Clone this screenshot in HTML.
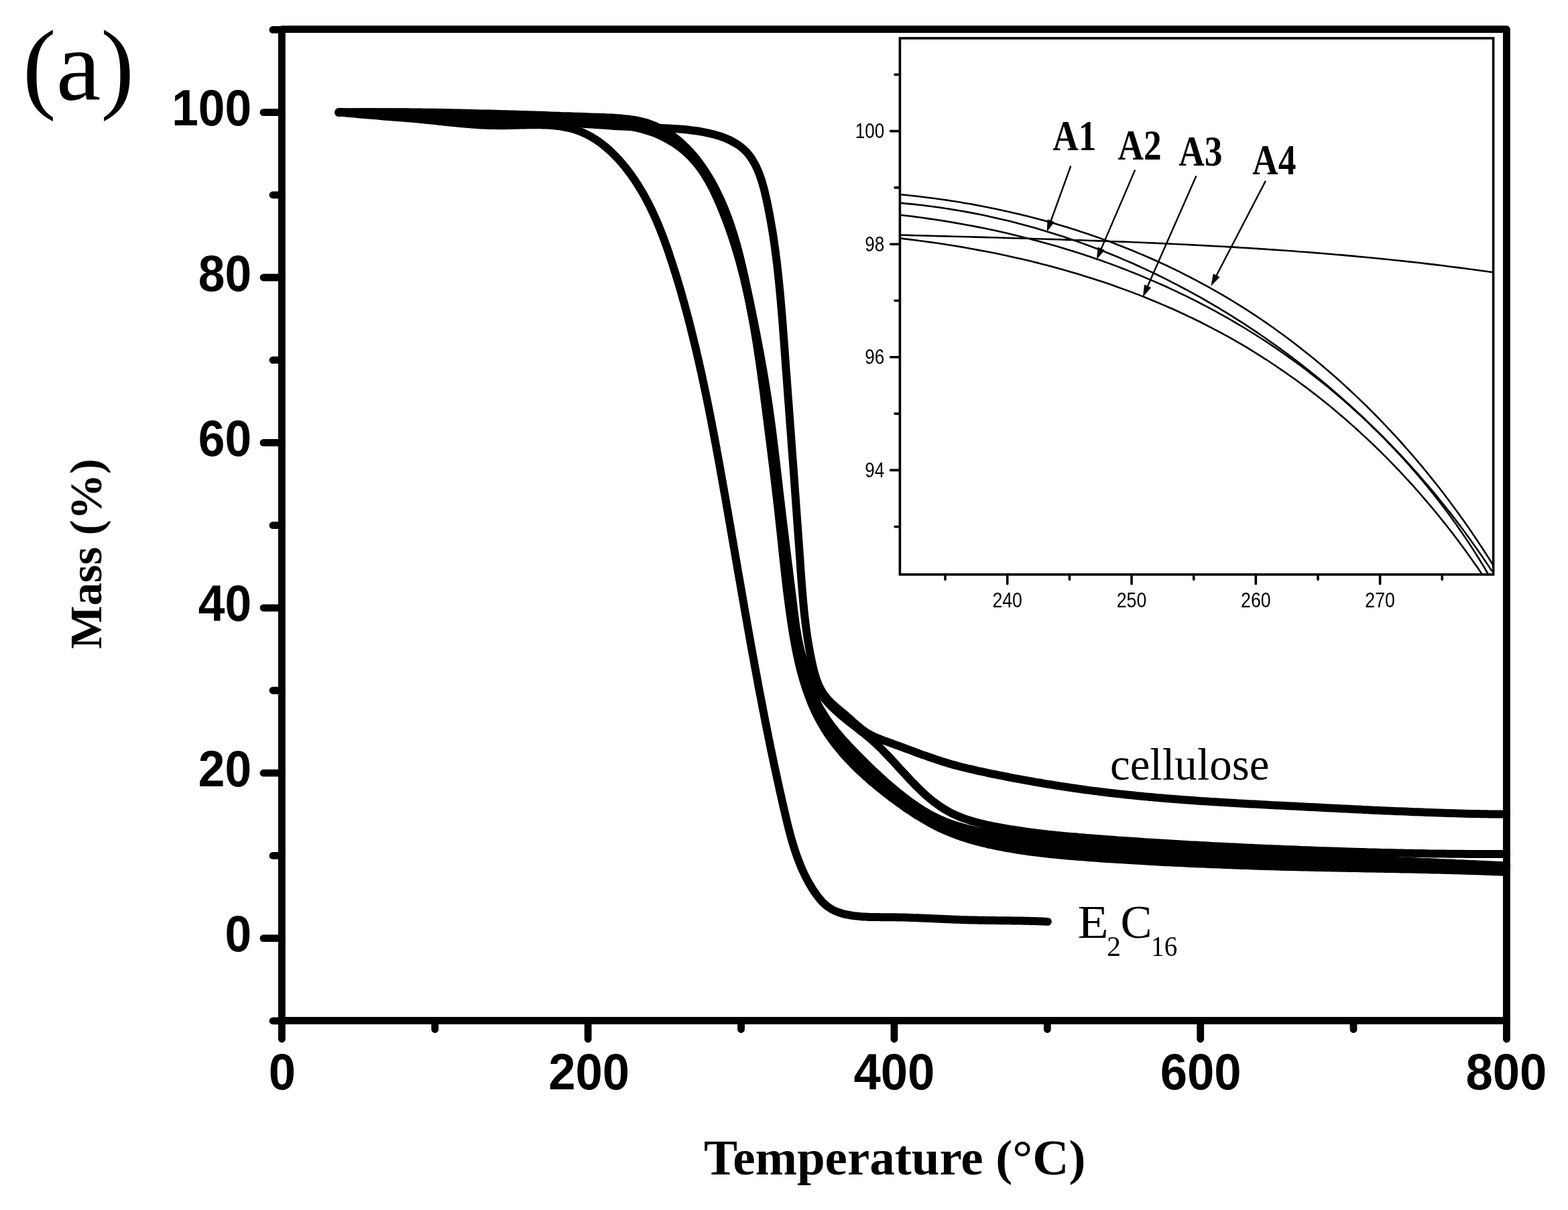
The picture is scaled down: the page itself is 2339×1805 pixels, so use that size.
<!DOCTYPE html>
<html><head><meta charset="utf-8"><title>TGA curves</title>
<style>html,body{margin:0;padding:0;background:#fff;overflow:hidden;}svg{display:block;}</style>
</head><body>
<svg width="2339" height="1805" viewBox="0 0 2339 1805"><path d="M420.4,1522.5 L420.4,43.7 L2247.4,43.7 L2247.4,1522.5 Z" fill="none" stroke="#000" stroke-width="10.8" stroke-linejoin="round"/>
<line x1="407.0" y1="1522.8" x2="420.4" y2="1522.8" stroke="#000" stroke-width="10.8" stroke-linecap="round"/>
<line x1="393.0" y1="1399.6" x2="420.4" y2="1399.6" stroke="#000" stroke-width="10.8" stroke-linecap="round"/>
<line x1="407.0" y1="1276.4" x2="420.4" y2="1276.4" stroke="#000" stroke-width="10.8" stroke-linecap="round"/>
<line x1="393.0" y1="1153.2" x2="420.4" y2="1153.2" stroke="#000" stroke-width="10.8" stroke-linecap="round"/>
<line x1="407.0" y1="1030.0" x2="420.4" y2="1030.0" stroke="#000" stroke-width="10.8" stroke-linecap="round"/>
<line x1="393.0" y1="906.8" x2="420.4" y2="906.8" stroke="#000" stroke-width="10.8" stroke-linecap="round"/>
<line x1="407.0" y1="783.6" x2="420.4" y2="783.6" stroke="#000" stroke-width="10.8" stroke-linecap="round"/>
<line x1="393.0" y1="660.4" x2="420.4" y2="660.4" stroke="#000" stroke-width="10.8" stroke-linecap="round"/>
<line x1="407.0" y1="537.2" x2="420.4" y2="537.2" stroke="#000" stroke-width="10.8" stroke-linecap="round"/>
<line x1="393.0" y1="414.0" x2="420.4" y2="414.0" stroke="#000" stroke-width="10.8" stroke-linecap="round"/>
<line x1="407.0" y1="290.8" x2="420.4" y2="290.8" stroke="#000" stroke-width="10.8" stroke-linecap="round"/>
<line x1="393.0" y1="167.6" x2="420.4" y2="167.6" stroke="#000" stroke-width="10.8" stroke-linecap="round"/>
<line x1="407.0" y1="44.4" x2="420.4" y2="44.4" stroke="#000" stroke-width="10.8" stroke-linecap="round"/>
<line x1="420.4" y1="1522.5" x2="420.4" y2="1550.0" stroke="#000" stroke-width="10.8" stroke-linecap="round"/>
<line x1="648.8" y1="1522.5" x2="648.8" y2="1535.5" stroke="#000" stroke-width="10.8" stroke-linecap="round"/>
<line x1="877.1" y1="1522.5" x2="877.1" y2="1550.0" stroke="#000" stroke-width="10.8" stroke-linecap="round"/>
<line x1="1105.5" y1="1522.5" x2="1105.5" y2="1535.5" stroke="#000" stroke-width="10.8" stroke-linecap="round"/>
<line x1="1333.9" y1="1522.5" x2="1333.9" y2="1550.0" stroke="#000" stroke-width="10.8" stroke-linecap="round"/>
<line x1="1562.3" y1="1522.5" x2="1562.3" y2="1535.5" stroke="#000" stroke-width="10.8" stroke-linecap="round"/>
<line x1="1790.7" y1="1522.5" x2="1790.7" y2="1550.0" stroke="#000" stroke-width="10.8" stroke-linecap="round"/>
<line x1="2019.0" y1="1522.5" x2="2019.0" y2="1535.5" stroke="#000" stroke-width="10.8" stroke-linecap="round"/>
<line x1="2247.4" y1="1522.5" x2="2247.4" y2="1550.0" stroke="#000" stroke-width="10.8" stroke-linecap="round"/>
<text transform="translate(375.2,1419.2) scale(0.945,1)" text-anchor="end" font-family="Liberation Sans, Arial, sans-serif" font-weight="bold" font-size="75.5">0</text>
<text transform="translate(375.2,1172.8) scale(0.945,1)" text-anchor="end" font-family="Liberation Sans, Arial, sans-serif" font-weight="bold" font-size="75.5">20</text>
<text transform="translate(375.2,926.4) scale(0.945,1)" text-anchor="end" font-family="Liberation Sans, Arial, sans-serif" font-weight="bold" font-size="75.5">40</text>
<text transform="translate(375.2,680.0) scale(0.945,1)" text-anchor="end" font-family="Liberation Sans, Arial, sans-serif" font-weight="bold" font-size="75.5">60</text>
<text transform="translate(375.2,433.6) scale(0.945,1)" text-anchor="end" font-family="Liberation Sans, Arial, sans-serif" font-weight="bold" font-size="75.5">80</text>
<text transform="translate(375.2,187.2) scale(0.945,1)" text-anchor="end" font-family="Liberation Sans, Arial, sans-serif" font-weight="bold" font-size="75.5">100</text>
<text transform="translate(420.9,1625.0) scale(0.96,1)" text-anchor="middle" font-family="Liberation Sans, Arial, sans-serif" font-weight="bold" font-size="75.5">0</text>
<text transform="translate(878.6,1625.0) scale(0.96,1)" text-anchor="middle" font-family="Liberation Sans, Arial, sans-serif" font-weight="bold" font-size="75.5">200</text>
<text transform="translate(1333.9,1625.0) scale(0.96,1)" text-anchor="middle" font-family="Liberation Sans, Arial, sans-serif" font-weight="bold" font-size="75.5">400</text>
<text transform="translate(1791.2,1625.0) scale(0.96,1)" text-anchor="middle" font-family="Liberation Sans, Arial, sans-serif" font-weight="bold" font-size="75.5">600</text>
<text transform="translate(2246.9,1625.0) scale(0.96,1)" text-anchor="middle" font-family="Liberation Sans, Arial, sans-serif" font-weight="bold" font-size="75.5">800</text>
<text x="1050" y="1752" font-family="Liberation Serif, Times New Roman, serif" font-weight="bold" font-size="75">Temperature (°C)</text>
<text transform="translate(150.7,968.3) rotate(-90)" font-family="Liberation Serif, Times New Roman, serif" font-weight="bold" font-size="68.7">Mass (%)</text>
<text x="33.7" y="148.7" font-family="Liberation Serif, Times New Roman, serif" font-size="150">(a)</text>
<text transform="translate(1656,1162.6) scale(0.975,1)" font-family="Liberation Serif, Times New Roman, serif" font-size="68.5">cellulose</text>
<text transform="translate(1607.5,1398.9) scale(1.07,1)" font-family="Liberation Serif, Times New Roman, serif" font-size="70.5">E</text>
<text x="1651.0" y="1425.8" font-family="Liberation Serif, Times New Roman, serif" font-size="42">2</text>
<text x="1671.5" y="1398.9" font-family="Liberation Serif, Times New Roman, serif" font-size="70.5">C</text>
<text transform="translate(1717.1,1425.8) scale(0.93,1)" font-family="Liberation Serif, Times New Roman, serif" font-size="42">16</text>
<path d="M505.8,167.3C506.9,167.4 510.0,167.8 512.1,168.0C514.2,168.2 516.3,168.4 518.4,168.7C520.5,168.9 522.6,169.1 524.7,169.3C526.9,169.5 529.0,169.7 531.1,169.9C533.2,170.1 535.4,170.3 537.5,170.5C539.7,170.7 541.8,170.9 544.0,171.1C546.1,171.2 548.3,171.4 550.4,171.6C552.6,171.8 554.7,171.9 556.9,172.1C559.1,172.3 561.2,172.5 563.4,172.6C565.5,172.8 567.7,173.0 569.9,173.2C572.1,173.3 574.2,173.5 576.4,173.7C578.6,173.8 580.7,174.0 582.9,174.2C585.1,174.3 587.3,174.5 589.4,174.7C591.6,174.9 593.8,175.0 595.9,175.2C598.1,175.4 600.3,175.6 602.5,175.7C604.6,175.9 606.8,176.1 609.0,176.3C611.1,176.5 613.3,176.6 615.4,176.8C617.6,177.0 619.8,177.2 621.9,177.4C624.1,177.6 626.2,177.8 628.4,178.0C630.5,178.2 632.7,178.5 634.8,178.7C636.9,178.9 639.1,179.1 641.2,179.3C643.3,179.5 645.5,179.8 647.6,180.0C649.7,180.2 651.9,180.5 654.0,180.7C656.1,180.9 658.2,181.1 660.4,181.4C662.5,181.6 664.6,181.8 666.7,182.0C668.8,182.3 671.0,182.5 673.1,182.7C675.2,182.9 677.3,183.1 679.4,183.4C681.6,183.6 683.7,183.8 685.8,184.0C687.9,184.2 690.0,184.4 692.2,184.6C694.3,184.7 696.4,184.9 698.6,185.1C700.7,185.3 702.8,185.4 704.9,185.6C707.1,185.8 709.2,185.9 711.4,186.0C713.5,186.2 715.6,186.3 717.8,186.4C719.9,186.5 722.1,186.6 724.2,186.7C726.4,186.8 728.6,186.9 730.7,187.0C732.9,187.0 735.1,187.1 737.2,187.1C739.4,187.2 741.6,187.2 743.8,187.2C746.0,187.2 748.2,187.2 750.4,187.2C752.6,187.2 754.8,187.1 757.0,187.1C759.2,187.0 761.4,187.0 763.6,186.9C765.8,186.9 768.0,186.8 770.2,186.8C772.5,186.7 774.7,186.6 776.9,186.6C779.1,186.5 781.3,186.5 783.5,186.4C785.7,186.4 788.0,186.3 790.2,186.3C792.4,186.3 794.6,186.2 796.8,186.2C799.0,186.2 801.2,186.2 803.4,186.2C805.5,186.3 807.7,186.3 809.9,186.4C812.1,186.4 814.2,186.5 816.4,186.6C818.5,186.8 820.7,186.9 822.8,187.1C825.0,187.2 827.1,187.4 829.2,187.7C831.3,187.9 833.4,188.1 835.5,188.4C837.6,188.7 839.7,189.1 841.7,189.5C843.8,189.8 845.9,190.3 847.9,190.7C849.9,191.2 851.9,191.7 853.9,192.3C855.9,192.8 857.9,193.4 859.9,194.1C861.8,194.7 863.8,195.4 865.7,196.2C867.6,197.0 869.5,197.8 871.4,198.6C873.3,199.5 875.2,200.4 877.0,201.4C878.8,202.3 880.7,203.3 882.5,204.4C884.3,205.5 886.1,206.5 887.8,207.7C889.6,208.8 891.3,210.0 893.1,211.2C894.8,212.4 896.5,213.7 898.2,215.0C899.9,216.3 901.6,217.6 903.2,219.0C904.8,220.4 906.5,221.8 908.1,223.2C909.7,224.7 911.3,226.1 912.8,227.6C914.4,229.1 916.0,230.7 917.5,232.2C919.0,233.8 920.5,235.4 922.0,237.0C923.5,238.6 924.9,240.2 926.4,241.9C927.8,243.5 929.2,245.2 930.6,246.9C932.1,248.6 933.4,250.3 934.8,252.1C936.2,253.8 937.5,255.6 938.8,257.4C940.1,259.1 941.4,260.9 942.7,262.7C944.0,264.5 945.2,266.3 946.5,268.2C947.7,270.0 948.9,271.8 950.1,273.7C951.3,275.5 952.5,277.4 953.6,279.3C954.8,281.1 955.9,283.0 957.0,284.9C958.1,286.7 959.2,288.6 960.3,290.5C961.3,292.4 962.4,294.3 963.4,296.2C964.4,298.1 965.4,300.0 966.4,301.9C967.4,303.8 968.4,305.8 969.4,307.7C970.3,309.6 971.3,311.5 972.2,313.5C973.1,315.4 974.0,317.4 974.9,319.3C975.8,321.3 976.7,323.2 977.6,325.2C978.5,327.1 979.3,329.1 980.2,331.1C981.0,333.0 981.8,335.0 982.6,337.0C983.5,339.0 984.3,341.0 985.0,342.9C985.8,344.9 986.6,346.9 987.4,348.9C988.2,350.9 988.9,352.9 989.7,354.9C990.4,356.9 991.2,358.9 991.9,360.9C992.6,363.0 993.3,365.0 994.1,367.0C994.8,369.0 995.5,371.0 996.2,373.1C996.9,375.1 997.6,377.1 998.3,379.1C998.9,381.2 999.6,383.2 1000.3,385.3C1001.0,387.3 1001.6,389.3 1002.3,391.4C1003.0,393.4 1003.6,395.5 1004.3,397.5C1004.9,399.6 1005.6,401.6 1006.2,403.7C1006.9,405.7 1007.5,407.8 1008.2,409.8C1008.8,411.9 1009.4,413.9 1010.1,416.0C1010.7,418.1 1011.3,420.1 1011.9,422.2C1012.5,424.3 1013.1,426.3 1013.8,428.4C1014.4,430.5 1015.0,432.5 1015.6,434.6C1016.2,436.7 1016.8,438.8 1017.4,440.8C1017.9,442.9 1018.5,445.0 1019.1,447.1C1019.7,449.2 1020.3,451.2 1020.9,453.3C1021.4,455.4 1022.0,457.5 1022.6,459.6C1023.1,461.7 1023.7,463.7 1024.3,465.8C1024.8,467.9 1025.4,470.0 1025.9,472.1C1026.5,474.2 1027.0,476.3 1027.6,478.4C1028.1,480.5 1028.6,482.6 1029.2,484.7C1029.7,486.8 1030.2,488.9 1030.8,491.0C1031.3,493.1 1031.8,495.2 1032.3,497.3C1032.9,499.4 1033.4,501.5 1033.9,503.6C1034.4,505.7 1034.9,507.8 1035.4,509.9C1035.9,512.0 1036.5,514.1 1037.0,516.2C1037.5,518.3 1038.0,520.4 1038.5,522.5C1038.9,524.6 1039.4,526.7 1039.9,528.8C1040.4,530.9 1040.9,533.0 1041.4,535.1C1041.9,537.2 1042.4,539.3 1042.8,541.4C1043.3,543.5 1043.8,545.7 1044.3,547.8C1044.7,549.9 1045.2,552.0 1045.7,554.1C1046.1,556.2 1046.6,558.3 1047.1,560.4C1047.5,562.5 1048.0,564.6 1048.4,566.8C1048.9,568.9 1049.3,571.0 1049.8,573.1C1050.2,575.2 1050.7,577.3 1051.1,579.4C1051.6,581.6 1052.0,583.7 1052.5,585.8C1052.9,587.9 1053.3,590.0 1053.8,592.1C1054.2,594.2 1054.7,596.4 1055.1,598.5C1055.5,600.6 1055.9,602.7 1056.4,604.8C1056.8,606.9 1057.2,609.1 1057.7,611.2C1058.1,613.3 1058.5,615.4 1058.9,617.5C1059.3,619.7 1059.8,621.8 1060.2,623.9C1060.6,626.0 1061.0,628.1 1061.4,630.2C1061.8,632.4 1062.2,634.5 1062.6,636.6C1063.1,638.7 1063.5,640.8 1063.9,643.0C1064.3,645.1 1064.7,647.2 1065.1,649.3C1065.5,651.5 1065.9,653.6 1066.3,655.7C1066.7,657.8 1067.1,659.9 1067.5,662.1C1067.9,664.2 1068.3,666.3 1068.7,668.4C1069.0,670.6 1069.4,672.7 1069.8,674.8C1070.2,676.9 1070.6,679.1 1071.0,681.2C1071.4,683.3 1071.8,685.4 1072.2,687.5C1072.5,689.7 1072.9,691.8 1073.3,693.9C1073.7,696.0 1074.1,698.2 1074.5,700.3C1074.8,702.4 1075.2,704.5 1075.6,706.7C1076.0,708.8 1076.4,710.9 1076.7,713.0C1077.1,715.2 1077.5,717.3 1077.9,719.4C1078.3,721.5 1078.6,723.7 1079.0,725.8C1079.4,727.9 1079.8,730.0 1080.1,732.2C1080.5,734.3 1080.9,736.4 1081.3,738.5C1081.6,740.7 1082.0,742.8 1082.4,744.9C1082.7,747.0 1083.1,749.2 1083.5,751.3C1083.9,753.4 1084.2,755.5 1084.6,757.7C1085.0,759.8 1085.3,761.9 1085.7,764.0C1086.1,766.2 1086.5,768.3 1086.8,770.4C1087.2,772.5 1087.6,774.7 1087.9,776.8C1088.3,778.9 1088.7,781.0 1089.0,783.2C1089.4,785.3 1089.8,787.4 1090.1,789.5C1090.5,791.7 1090.9,793.8 1091.2,795.9C1091.6,798.0 1092.0,800.2 1092.3,802.3C1092.7,804.4 1093.1,806.5 1093.4,808.7C1093.8,810.8 1094.2,812.9 1094.5,815.0C1094.9,817.2 1095.3,819.3 1095.6,821.4C1096.0,823.5 1096.4,825.7 1096.7,827.8C1097.1,829.9 1097.5,832.0 1097.8,834.2C1098.2,836.3 1098.6,838.4 1098.9,840.5C1099.3,842.7 1099.7,844.8 1100.0,846.9C1100.4,849.0 1100.8,851.2 1101.1,853.3C1101.5,855.4 1101.9,857.5 1102.2,859.7C1102.6,861.8 1103.0,863.9 1103.4,866.0C1103.7,868.2 1104.1,870.3 1104.5,872.4C1104.8,874.5 1105.2,876.7 1105.6,878.8C1105.9,880.9 1106.3,883.0 1106.7,885.2C1107.0,887.3 1107.4,889.4 1107.8,891.5C1108.1,893.7 1108.5,895.8 1108.9,897.9C1109.3,900.0 1109.6,902.2 1110.0,904.3C1110.4,906.4 1110.7,908.5 1111.1,910.7C1111.5,912.8 1111.9,914.9 1112.2,917.0C1112.6,919.2 1113.0,921.3 1113.4,923.4C1113.7,925.5 1114.1,927.6 1114.5,929.8C1114.9,931.9 1115.2,934.0 1115.6,936.1C1116.0,938.3 1116.4,940.4 1116.7,942.5C1117.1,944.6 1117.5,946.8 1117.9,948.9C1118.2,951.0 1118.6,953.1 1119.0,955.2C1119.4,957.4 1119.8,959.5 1120.1,961.6C1120.5,963.7 1120.9,965.9 1121.3,968.0C1121.7,970.1 1122.1,972.2 1122.4,974.4C1122.8,976.5 1123.2,978.6 1123.6,980.7C1124.0,982.8 1124.4,985.0 1124.8,987.1C1125.2,989.2 1125.5,991.3 1125.9,993.5C1126.3,995.6 1126.7,997.7 1127.1,999.8C1127.5,1001.9 1127.9,1004.1 1128.3,1006.2C1128.7,1008.3 1129.1,1010.4 1129.5,1012.6C1129.9,1014.7 1130.3,1016.8 1130.6,1018.9C1131.0,1021.0 1131.4,1023.2 1131.8,1025.3C1132.2,1027.4 1132.6,1029.5 1133.0,1031.6C1133.4,1033.8 1133.8,1035.9 1134.3,1038.0C1134.7,1040.1 1135.1,1042.2 1135.5,1044.4C1135.9,1046.5 1136.3,1048.6 1136.7,1050.7C1137.1,1052.8 1137.5,1055.0 1137.9,1057.1C1138.3,1059.2 1138.7,1061.3 1139.2,1063.4C1139.6,1065.6 1140.0,1067.7 1140.4,1069.8C1140.8,1071.9 1141.2,1074.0 1141.6,1076.2C1142.1,1078.3 1142.5,1080.4 1142.9,1082.5C1143.3,1084.6 1143.8,1086.8 1144.2,1088.9C1144.6,1091.0 1145.0,1093.1 1145.5,1095.2C1145.9,1097.4 1146.3,1099.5 1146.7,1101.6C1147.2,1103.7 1147.6,1105.8 1148.0,1107.9C1148.5,1110.1 1148.9,1112.2 1149.3,1114.3C1149.8,1116.4 1150.2,1118.5 1150.6,1120.6C1151.1,1122.8 1151.5,1124.9 1152.0,1127.0C1152.4,1129.1 1152.9,1131.2 1153.3,1133.3C1153.7,1135.5 1154.2,1137.6 1154.6,1139.7C1155.1,1141.8 1155.5,1143.9 1156.0,1146.0C1156.4,1148.2 1156.9,1150.3 1157.4,1152.4C1157.8,1154.5 1158.3,1156.6 1158.7,1158.7C1159.2,1160.9 1159.6,1163.0 1160.1,1165.1C1160.6,1167.2 1161.0,1169.3 1161.5,1171.4C1162.0,1173.5 1162.4,1175.7 1162.9,1177.8C1163.4,1179.9 1163.8,1182.0 1164.3,1184.1C1164.8,1186.2 1165.3,1188.3 1165.8,1190.5C1166.2,1192.6 1166.7,1194.7 1167.2,1196.8C1167.7,1198.9 1168.2,1201.0 1168.6,1203.1C1169.1,1205.3 1169.6,1207.4 1170.1,1209.5C1170.6,1211.6 1171.1,1213.7 1171.6,1215.8C1172.1,1217.9 1172.6,1220.0 1173.1,1222.1C1173.6,1224.3 1174.1,1226.4 1174.6,1228.5C1175.1,1230.6 1175.7,1232.7 1176.2,1234.8C1176.7,1236.9 1177.3,1239.0 1177.8,1241.1C1178.4,1243.2 1178.9,1245.2 1179.5,1247.3C1180.1,1249.4 1180.6,1251.5 1181.2,1253.6C1181.8,1255.6 1182.4,1257.7 1183.1,1259.8C1183.7,1261.8 1184.3,1263.9 1185.0,1265.9C1185.6,1268.0 1186.3,1270.0 1187.0,1272.0C1187.7,1274.1 1188.4,1276.1 1189.1,1278.1C1189.8,1280.1 1190.6,1282.1 1191.3,1284.1C1192.1,1286.1 1192.9,1288.1 1193.7,1290.1C1194.5,1292.0 1195.3,1294.0 1196.2,1296.0C1197.0,1297.9 1197.9,1299.9 1198.8,1301.8C1199.7,1303.7 1200.6,1305.6 1201.6,1307.5C1202.6,1309.4 1203.5,1311.3 1204.6,1313.2C1205.6,1315.1 1206.6,1317.0 1207.7,1318.8C1208.8,1320.7 1209.9,1322.5 1211.0,1324.3C1212.1,1326.1 1213.3,1328.0 1214.5,1329.7C1215.7,1331.5 1216.9,1333.3 1218.2,1335.0C1219.5,1336.8 1220.8,1338.5 1222.1,1340.1C1223.5,1341.8 1224.9,1343.4 1226.3,1344.9C1227.8,1346.4 1229.3,1347.9 1230.9,1349.3C1232.4,1350.7 1234.1,1352.0 1235.7,1353.2C1237.4,1354.4 1239.2,1355.5 1241.0,1356.5C1242.8,1357.6 1244.7,1358.5 1246.6,1359.3C1248.5,1360.1 1250.5,1360.8 1252.5,1361.5C1254.5,1362.2 1256.5,1362.8 1258.6,1363.3C1260.6,1363.8 1262.8,1364.3 1264.9,1364.7C1267.0,1365.1 1269.1,1365.4 1271.2,1365.8C1273.4,1366.1 1275.5,1366.4 1277.7,1366.6C1279.8,1366.8 1282.0,1367.0 1284.1,1367.2C1286.3,1367.4 1288.5,1367.5 1290.7,1367.6C1292.8,1367.7 1295.0,1367.8 1297.2,1367.9C1299.4,1368.0 1301.6,1368.0 1303.8,1368.0C1306.0,1368.1 1308.2,1368.1 1310.4,1368.1C1312.6,1368.1 1314.8,1368.2 1317.0,1368.2C1319.2,1368.2 1321.3,1368.2 1323.5,1368.2C1325.7,1368.2 1327.9,1368.2 1330.1,1368.2C1332.3,1368.3 1334.5,1368.3 1336.6,1368.3C1338.8,1368.4 1341.0,1368.4 1343.1,1368.5C1345.3,1368.5 1347.5,1368.6 1349.6,1368.6C1351.8,1368.7 1354.0,1368.8 1356.1,1368.8C1358.3,1368.9 1360.4,1369.0 1362.6,1369.1C1364.7,1369.1 1366.9,1369.2 1369.1,1369.3C1371.2,1369.4 1373.4,1369.5 1375.5,1369.5C1377.6,1369.6 1379.8,1369.7 1381.9,1369.8C1384.1,1369.9 1386.2,1370.0 1388.4,1370.1C1390.5,1370.2 1392.7,1370.3 1394.8,1370.4C1396.9,1370.5 1399.1,1370.6 1401.2,1370.7C1403.4,1370.8 1405.5,1370.8 1407.7,1370.9C1409.8,1371.0 1411.9,1371.1 1414.1,1371.2C1416.2,1371.3 1418.4,1371.4 1420.5,1371.5C1422.7,1371.6 1424.8,1371.7 1426.9,1371.7C1429.1,1371.8 1431.2,1371.9 1433.4,1372.0C1435.5,1372.0 1437.7,1372.1 1439.8,1372.2C1442.0,1372.3 1444.2,1372.3 1446.3,1372.4C1448.5,1372.4 1450.6,1372.5 1452.8,1372.5C1454.9,1372.6 1457.1,1372.6 1459.3,1372.7C1461.4,1372.7 1463.6,1372.8 1465.8,1372.8C1467.9,1372.8 1470.1,1372.9 1472.3,1372.9C1474.4,1372.9 1476.6,1373.0 1478.8,1373.0C1480.9,1373.0 1483.1,1373.0 1485.3,1373.1C1487.4,1373.1 1489.6,1373.1 1491.8,1373.2C1494.0,1373.2 1496.1,1373.2 1498.3,1373.2C1500.5,1373.3 1502.6,1373.3 1504.8,1373.3C1507.0,1373.4 1509.1,1373.4 1511.3,1373.4C1513.5,1373.4 1515.6,1373.5 1517.8,1373.5C1519.9,1373.6 1522.1,1373.6 1524.3,1373.6C1526.4,1373.7 1528.6,1373.7 1530.7,1373.8C1532.9,1373.8 1535.0,1373.9 1537.2,1373.9C1539.3,1374.0 1541.5,1374.1 1543.6,1374.1C1545.8,1374.2 1547.9,1374.3 1550.1,1374.3C1552.2,1374.4 1554.3,1374.5 1556.5,1374.6C1558.6,1374.7 1561.8,1374.8 1562.8,1374.9" fill="none" stroke="#000" stroke-width="12.0" stroke-linecap="round" stroke-linejoin="round"/>
<path d="M505.5,167.0C506.9,167.0 511.0,167.3 513.8,167.4C516.6,167.5 519.4,167.7 522.2,167.8C524.9,168.0 527.7,168.1 530.5,168.2C533.3,168.4 536.1,168.5 538.9,168.6C541.6,168.8 544.4,168.9 547.2,169.0C550.0,169.1 552.8,169.2 555.5,169.4C558.3,169.5 561.1,169.6 563.9,169.7C566.7,169.8 569.5,170.0 572.2,170.1C575.0,170.2 577.8,170.3 580.6,170.4C583.4,170.5 586.1,170.6 588.9,170.7C591.7,170.8 594.5,171.0 597.3,171.1C600.0,171.2 602.8,171.3 605.6,171.4C608.4,171.5 611.1,171.6 613.9,171.7C616.7,171.8 619.5,171.9 622.3,172.0C625.0,172.1 627.8,172.2 630.6,172.3C633.4,172.4 636.2,172.5 638.9,172.6C641.7,172.7 644.5,172.8 647.3,172.9C650.1,173.0 652.8,173.1 655.6,173.2C658.4,173.4 661.2,173.5 663.9,173.6C666.7,173.7 669.5,173.8 672.3,173.9C675.1,174.0 677.8,174.1 680.6,174.2C683.4,174.3 686.2,174.4 689.0,174.5C691.7,174.6 694.5,174.7 697.3,174.9C700.1,175.0 702.8,175.1 705.6,175.2C708.4,175.3 711.2,175.4 714.0,175.5C716.7,175.7 719.5,175.8 722.3,175.9C725.1,176.0 727.9,176.1 730.6,176.3C733.4,176.4 736.2,176.5 739.0,176.7C741.7,176.8 744.5,176.9 747.3,177.0C750.1,177.2 752.9,177.3 755.6,177.5C758.4,177.6 761.2,177.7 764.0,177.9C766.7,178.0 769.5,178.2 772.3,178.3C775.1,178.5 777.9,178.6 780.6,178.8C783.4,178.9 786.2,179.1 789.0,179.2C791.8,179.4 794.5,179.6 797.3,179.7C800.1,179.9 802.9,180.1 805.7,180.3C808.4,180.4 811.2,180.6 814.0,180.8C816.8,181.0 819.6,181.2 822.3,181.3C825.1,181.5 827.9,181.7 830.7,181.9C833.4,182.1 836.2,182.3 839.0,182.5C841.8,182.7 844.6,182.9 847.3,183.1C850.1,183.3 852.9,183.5 855.7,183.7C858.5,183.9 861.2,184.1 864.0,184.3C866.8,184.5 869.6,184.7 872.4,184.9C875.1,185.1 877.9,185.3 880.7,185.5C883.5,185.7 886.2,185.9 889.0,186.0C891.8,186.2 894.6,186.4 897.3,186.6C900.1,186.8 902.9,187.0 905.7,187.1C908.4,187.3 911.2,187.5 914.0,187.7C916.8,187.8 919.5,188.0 922.3,188.2C925.1,188.3 927.9,188.5 930.6,188.6C933.4,188.8 936.2,188.9 938.9,189.1C941.7,189.2 944.5,189.3 947.3,189.5C950.0,189.6 952.8,189.7 955.6,189.8C958.3,189.9 961.1,190.0 963.9,190.1C966.6,190.2 969.4,190.3 972.2,190.4C974.9,190.5 977.7,190.6 980.5,190.7C983.2,190.8 986.0,190.9 988.8,191.1C991.5,191.2 994.3,191.3 997.1,191.4C999.8,191.6 1002.6,191.7 1005.4,191.9C1008.2,192.1 1010.9,192.3 1013.7,192.5C1016.5,192.7 1019.3,193.0 1022.1,193.2C1024.8,193.5 1027.6,193.8 1030.4,194.2C1033.2,194.5 1036.0,194.9 1038.8,195.3C1041.6,195.7 1044.4,196.2 1047.2,196.7C1050.0,197.2 1052.8,197.7 1055.6,198.3C1058.4,198.9 1061.1,199.5 1063.9,200.2C1066.6,201.0 1069.3,201.7 1072.0,202.6C1074.7,203.4 1077.3,204.3 1079.9,205.3C1082.5,206.3 1085.0,207.3 1087.5,208.5C1089.9,209.6 1092.4,210.9 1094.7,212.2C1097.0,213.5 1099.3,214.9 1101.5,216.4C1103.6,217.9 1105.7,219.5 1107.7,221.2C1109.7,222.9 1111.6,224.7 1113.4,226.6C1115.2,228.6 1116.8,230.6 1118.4,232.7C1120.0,234.8 1121.5,237.0 1122.9,239.3C1124.3,241.6 1125.6,244.0 1126.9,246.4C1128.1,248.9 1129.3,251.4 1130.4,254.0C1131.5,256.5 1132.5,259.2 1133.5,261.8C1134.5,264.5 1135.4,267.2 1136.3,270.0C1137.1,272.7 1137.9,275.5 1138.7,278.3C1139.5,281.1 1140.2,283.9 1140.9,286.8C1141.6,289.6 1142.2,292.4 1142.9,295.3C1143.5,298.1 1144.1,301.0 1144.7,303.8C1145.3,306.6 1145.8,309.4 1146.4,312.2C1146.9,315.0 1147.5,317.7 1148.0,320.5C1148.5,323.3 1149.0,326.0 1149.5,328.8C1150.0,331.5 1150.5,334.2 1150.9,337.0C1151.4,339.7 1151.9,342.4 1152.3,345.1C1152.7,347.8 1153.2,350.5 1153.6,353.3C1154.0,356.0 1154.4,358.7 1154.8,361.4C1155.2,364.1 1155.6,366.8 1155.9,369.5C1156.3,372.2 1156.7,374.9 1157.0,377.6C1157.4,380.3 1157.7,383.0 1158.1,385.8C1158.4,388.5 1158.7,391.2 1159.1,393.9C1159.4,396.7 1159.7,399.4 1160.0,402.1C1160.3,404.9 1160.6,407.6 1160.9,410.4C1161.2,413.1 1161.5,415.9 1161.8,418.6C1162.1,421.4 1162.3,424.1 1162.6,426.9C1162.9,429.7 1163.2,432.4 1163.4,435.2C1163.7,438.0 1163.9,440.7 1164.2,443.5C1164.4,446.3 1164.7,449.0 1164.9,451.8C1165.2,454.6 1165.4,457.4 1165.6,460.1C1165.9,462.9 1166.1,465.7 1166.3,468.5C1166.6,471.3 1166.8,474.1 1167.0,476.8C1167.2,479.6 1167.4,482.4 1167.7,485.2C1167.9,488.0 1168.1,490.8 1168.3,493.6C1168.5,496.3 1168.7,499.1 1168.9,501.9C1169.1,504.7 1169.3,507.5 1169.6,510.3C1169.8,513.1 1170.0,515.9 1170.2,518.7C1170.4,521.4 1170.6,524.2 1170.8,527.0C1171.0,529.8 1171.2,532.6 1171.4,535.4C1171.6,538.2 1171.8,540.9 1172.0,543.7C1172.2,546.5 1172.4,549.3 1172.6,552.1C1172.8,554.8 1173.0,557.6 1173.3,560.4C1173.5,563.2 1173.7,566.0 1173.9,568.7C1174.1,571.5 1174.3,574.3 1174.5,577.1C1174.7,579.9 1174.9,582.6 1175.1,585.4C1175.3,588.2 1175.5,591.0 1175.7,593.7C1175.9,596.5 1176.1,599.3 1176.4,602.1C1176.6,604.8 1176.8,607.6 1177.0,610.4C1177.2,613.2 1177.4,615.9 1177.6,618.7C1177.8,621.5 1178.0,624.2 1178.2,627.0C1178.4,629.8 1178.6,632.6 1178.8,635.3C1179.0,638.1 1179.2,640.9 1179.5,643.6C1179.7,646.4 1179.9,649.2 1180.1,651.9C1180.3,654.7 1180.5,657.5 1180.7,660.2C1180.9,663.0 1181.1,665.8 1181.3,668.6C1181.5,671.3 1181.7,674.1 1181.9,676.9C1182.1,679.6 1182.3,682.4 1182.5,685.2C1182.8,687.9 1183.0,690.7 1183.2,693.5C1183.4,696.2 1183.6,699.0 1183.8,701.8C1184.0,704.5 1184.2,707.3 1184.4,710.1C1184.6,712.9 1184.8,715.6 1185.0,718.4C1185.2,721.2 1185.4,723.9 1185.6,726.7C1185.8,729.5 1186.0,732.2 1186.2,735.0C1186.4,737.8 1186.6,740.5 1186.8,743.3C1187.0,746.1 1187.2,748.9 1187.4,751.6C1187.6,754.4 1187.8,757.2 1188.0,759.9C1188.2,762.7 1188.4,765.5 1188.6,768.3C1188.8,771.0 1189.0,773.8 1189.2,776.6C1189.4,779.4 1189.6,782.1 1189.8,784.9C1190.0,787.7 1190.2,790.5 1190.4,793.2C1190.6,796.0 1190.8,798.8 1191.0,801.6C1191.2,804.3 1191.4,807.1 1191.6,809.9C1191.8,812.7 1192.0,815.4 1192.2,818.2C1192.4,821.0 1192.6,823.8 1192.8,826.6C1193.0,829.3 1193.2,832.1 1193.4,834.9C1193.6,837.7 1193.8,840.5 1193.9,843.3C1194.1,846.0 1194.3,848.8 1194.5,851.6C1194.7,854.4 1194.9,857.2 1195.1,860.0C1195.3,862.7 1195.5,865.5 1195.7,868.3C1195.9,871.1 1196.2,873.9 1196.4,876.7C1196.6,879.4 1196.8,882.2 1197.1,885.0C1197.3,887.8 1197.5,890.6 1197.8,893.3C1198.0,896.1 1198.3,898.9 1198.5,901.7C1198.8,904.5 1199.1,907.2 1199.3,910.0C1199.6,912.8 1199.9,915.5 1200.2,918.3C1200.5,921.1 1200.8,923.8 1201.2,926.6C1201.5,929.4 1201.8,932.1 1202.2,934.9C1202.5,937.6 1202.9,940.4 1203.3,943.1C1203.7,945.9 1204.1,948.6 1204.5,951.4C1204.9,954.1 1205.3,956.8 1205.8,959.6C1206.2,962.3 1206.7,965.0 1207.2,967.8C1207.7,970.5 1208.2,973.2 1208.7,975.9C1209.2,978.7 1209.8,981.4 1210.4,984.1C1210.9,986.8 1211.5,989.5 1212.1,992.2C1212.7,994.9 1213.4,997.6 1214.0,1000.2C1214.7,1002.9 1215.5,1005.6 1216.3,1008.2C1217.1,1010.8 1217.9,1013.4 1218.8,1015.9C1219.8,1018.5 1220.8,1021.0 1221.9,1023.5C1223.1,1025.9 1224.3,1028.3 1225.7,1030.6C1227.1,1033.0 1228.5,1035.2 1230.2,1037.4C1231.8,1039.6 1233.6,1041.7 1235.5,1043.8C1237.4,1045.8 1239.4,1047.8 1241.5,1049.8C1243.5,1051.7 1245.7,1053.6 1247.9,1055.5C1250.1,1057.4 1252.4,1059.2 1254.6,1061.1C1256.8,1063.0 1259.1,1064.8 1261.2,1066.7C1263.4,1068.5 1265.5,1070.4 1267.7,1072.3C1269.8,1074.2 1271.8,1076.1 1273.9,1078.0C1276.0,1079.8 1278.1,1081.7 1280.2,1083.4C1282.3,1085.2 1284.4,1086.9 1286.6,1088.5C1288.7,1090.2 1290.9,1091.7 1293.2,1093.2C1295.5,1094.6 1297.9,1095.9 1300.3,1097.1C1302.8,1098.4 1305.3,1099.5 1307.8,1100.6C1310.3,1101.7 1312.9,1102.7 1315.5,1103.7C1318.1,1104.7 1320.8,1105.6 1323.4,1106.5C1326.0,1107.5 1328.7,1108.4 1331.3,1109.4C1334.0,1110.3 1336.6,1111.3 1339.2,1112.2C1341.9,1113.2 1344.5,1114.1 1347.1,1115.1C1349.7,1116.1 1352.3,1117.1 1355.0,1118.0C1357.6,1119.0 1360.2,1120.0 1362.8,1121.0C1365.4,1121.9 1368.0,1122.9 1370.6,1123.9C1373.3,1124.8 1375.9,1125.8 1378.5,1126.7C1381.1,1127.7 1383.7,1128.6 1386.4,1129.5C1389.0,1130.4 1391.6,1131.3 1394.2,1132.2C1396.9,1133.1 1399.5,1134.0 1402.1,1134.8C1404.8,1135.7 1407.4,1136.5 1410.1,1137.3C1412.7,1138.1 1415.4,1138.9 1418.1,1139.7C1420.7,1140.4 1423.4,1141.2 1426.1,1141.9C1428.8,1142.6 1431.4,1143.3 1434.1,1144.0C1436.8,1144.7 1439.5,1145.3 1442.2,1146.0C1444.9,1146.6 1447.6,1147.3 1450.3,1147.9C1453.0,1148.5 1455.7,1149.1 1458.4,1149.8C1461.1,1150.4 1463.8,1150.9 1466.6,1151.5C1469.3,1152.1 1472.0,1152.7 1474.7,1153.3C1477.4,1153.8 1480.1,1154.4 1482.9,1154.9C1485.6,1155.5 1488.3,1156.1 1491.0,1156.6C1493.8,1157.1 1496.5,1157.7 1499.2,1158.2C1501.9,1158.8 1504.7,1159.3 1507.4,1159.8C1510.1,1160.3 1512.8,1160.9 1515.6,1161.4C1518.3,1161.9 1521.0,1162.4 1523.8,1162.9C1526.5,1163.4 1529.2,1163.9 1532.0,1164.4C1534.7,1164.9 1537.4,1165.4 1540.2,1165.8C1542.9,1166.3 1545.6,1166.8 1548.4,1167.3C1551.1,1167.7 1553.9,1168.2 1556.6,1168.7C1559.3,1169.1 1562.1,1169.6 1564.8,1170.0C1567.6,1170.5 1570.3,1170.9 1573.0,1171.3C1575.8,1171.8 1578.5,1172.2 1581.3,1172.6C1584.0,1173.1 1586.8,1173.5 1589.5,1173.9C1592.3,1174.3 1595.0,1174.7 1597.8,1175.1C1600.5,1175.5 1603.3,1175.9 1606.0,1176.3C1608.8,1176.7 1611.5,1177.1 1614.3,1177.5C1617.0,1177.8 1619.8,1178.2 1622.5,1178.6C1625.3,1178.9 1628.0,1179.3 1630.8,1179.7C1633.5,1180.0 1636.3,1180.4 1639.1,1180.7C1641.8,1181.1 1644.6,1181.4 1647.3,1181.7C1650.1,1182.1 1652.8,1182.4 1655.6,1182.7C1658.4,1183.0 1661.1,1183.4 1663.9,1183.7C1666.6,1184.0 1669.4,1184.3 1672.2,1184.6C1674.9,1184.9 1677.7,1185.2 1680.4,1185.5C1683.2,1185.8 1686.0,1186.1 1688.7,1186.3C1691.5,1186.6 1694.3,1186.9 1697.0,1187.2C1699.8,1187.4 1702.6,1187.7 1705.3,1188.0C1708.1,1188.2 1710.9,1188.5 1713.6,1188.7C1716.4,1189.0 1719.2,1189.2 1721.9,1189.5C1724.7,1189.7 1727.5,1190.0 1730.2,1190.2C1733.0,1190.5 1735.8,1190.7 1738.6,1190.9C1741.3,1191.1 1744.1,1191.4 1746.9,1191.6C1749.6,1191.8 1752.4,1192.0 1755.2,1192.3C1758.0,1192.5 1760.7,1192.7 1763.5,1192.9C1766.3,1193.1 1769.0,1193.3 1771.8,1193.5C1774.6,1193.7 1777.4,1193.9 1780.1,1194.1C1782.9,1194.3 1785.7,1194.5 1788.5,1194.7C1791.2,1194.9 1794.0,1195.0 1796.8,1195.2C1799.6,1195.4 1802.3,1195.6 1805.1,1195.8C1807.9,1195.9 1810.7,1196.1 1813.5,1196.3C1816.2,1196.5 1819.0,1196.6 1821.8,1196.8C1824.6,1197.0 1827.3,1197.1 1830.1,1197.3C1832.9,1197.5 1835.7,1197.6 1838.4,1197.8C1841.2,1198.0 1844.0,1198.1 1846.8,1198.3C1849.6,1198.4 1852.3,1198.6 1855.1,1198.7C1857.9,1198.9 1860.7,1199.0 1863.5,1199.2C1866.2,1199.4 1869.0,1199.5 1871.8,1199.6C1874.6,1199.8 1877.3,1199.9 1880.1,1200.1C1882.9,1200.2 1885.7,1200.4 1888.5,1200.5C1891.2,1200.7 1894.0,1200.8 1896.8,1201.0C1899.6,1201.1 1902.4,1201.2 1905.1,1201.4C1907.9,1201.5 1910.7,1201.7 1913.5,1201.8C1916.3,1201.9 1919.0,1202.1 1921.8,1202.2C1924.6,1202.4 1927.4,1202.5 1930.2,1202.6C1932.9,1202.8 1935.7,1202.9 1938.5,1203.1C1941.3,1203.2 1944.0,1203.3 1946.8,1203.5C1949.6,1203.6 1952.4,1203.8 1955.2,1203.9C1957.9,1204.0 1960.7,1204.2 1963.5,1204.3C1966.3,1204.5 1969.1,1204.6 1971.8,1204.7C1974.6,1204.9 1977.4,1205.0 1980.2,1205.2C1982.9,1205.3 1985.7,1205.4 1988.5,1205.6C1991.3,1205.7 1994.1,1205.9 1996.8,1206.0C1999.6,1206.1 2002.4,1206.3 2005.2,1206.4C2007.9,1206.5 2010.7,1206.7 2013.5,1206.8C2016.3,1207.0 2019.1,1207.1 2021.8,1207.2C2024.6,1207.4 2027.4,1207.5 2030.2,1207.6C2032.9,1207.8 2035.7,1207.9 2038.5,1208.0C2041.3,1208.2 2044.1,1208.3 2046.8,1208.4C2049.6,1208.6 2052.4,1208.7 2055.2,1208.8C2057.9,1208.9 2060.7,1209.1 2063.5,1209.2C2066.3,1209.3 2069.1,1209.4 2071.8,1209.6C2074.6,1209.7 2077.4,1209.8 2080.2,1209.9C2082.9,1210.1 2085.7,1210.2 2088.5,1210.3C2091.3,1210.4 2094.1,1210.5 2096.8,1210.6C2099.6,1210.8 2102.4,1210.9 2105.2,1211.0C2108.0,1211.1 2110.7,1211.2 2113.5,1211.3C2116.3,1211.4 2119.1,1211.5 2121.8,1211.6C2124.6,1211.7 2127.4,1211.8 2130.2,1211.9C2133.0,1212.0 2135.7,1212.1 2138.5,1212.2C2141.3,1212.3 2144.1,1212.4 2146.9,1212.5C2149.6,1212.6 2152.4,1212.7 2155.2,1212.8C2158.0,1212.9 2160.8,1213.0 2163.5,1213.0C2166.3,1213.1 2169.1,1213.2 2171.9,1213.3C2174.7,1213.4 2177.5,1213.4 2180.2,1213.5C2183.0,1213.6 2185.8,1213.7 2188.6,1213.7C2191.4,1213.8 2194.1,1213.9 2196.9,1213.9C2199.7,1214.0 2202.5,1214.0 2205.3,1214.1C2208.1,1214.2 2210.8,1214.2 2213.6,1214.3C2216.4,1214.3 2219.2,1214.4 2222.0,1214.4C2224.8,1214.4 2227.5,1214.5 2230.3,1214.5C2233.1,1214.6 2235.9,1214.6 2238.7,1214.6C2241.5,1214.7 2245.6,1214.7 2247.0,1214.7" fill="none" stroke="#000" stroke-width="12.0" stroke-linecap="round" stroke-linejoin="round"/>
<path d="M505.6,167.6C507.0,167.6 511.1,167.5 513.9,167.5C516.6,167.4 519.4,167.4 522.1,167.4C524.9,167.4 527.6,167.3 530.4,167.3C533.2,167.3 535.9,167.3 538.7,167.2C541.4,167.2 544.2,167.2 546.9,167.2C549.7,167.2 552.5,167.2 555.2,167.2C558.0,167.2 560.7,167.2 563.5,167.2C566.3,167.2 569.0,167.2 571.8,167.2C574.6,167.2 577.3,167.2 580.1,167.2C582.9,167.2 585.6,167.2 588.4,167.2C591.2,167.2 593.9,167.2 596.7,167.3C599.5,167.3 602.2,167.3 605.0,167.3C607.8,167.3 610.5,167.4 613.3,167.4C616.1,167.4 618.8,167.4 621.6,167.5C624.4,167.5 627.2,167.5 629.9,167.6C632.7,167.6 635.5,167.6 638.2,167.7C641.0,167.7 643.8,167.8 646.6,167.8C649.3,167.9 652.1,167.9 654.9,167.9C657.6,168.0 660.4,168.0 663.2,168.1C666.0,168.1 668.7,168.2 671.5,168.2C674.3,168.3 677.0,168.4 679.8,168.4C682.6,168.5 685.3,168.5 688.1,168.6C690.9,168.6 693.7,168.7 696.4,168.8C699.2,168.8 702.0,168.9 704.7,169.0C707.5,169.0 710.3,169.1 713.0,169.2C715.8,169.2 718.6,169.3 721.3,169.4C724.1,169.4 726.9,169.5 729.6,169.6C732.4,169.7 735.1,169.7 737.9,169.8C740.7,169.9 743.4,170.0 746.2,170.1C749.0,170.1 751.7,170.2 754.5,170.3C757.2,170.4 760.0,170.5 762.7,170.5C765.5,170.6 768.3,170.7 771.0,170.8C773.8,170.9 776.5,171.0 779.3,171.0C782.0,171.1 784.8,171.2 787.5,171.3C790.3,171.4 793.0,171.5 795.8,171.6C798.5,171.7 801.3,171.8 804.0,171.8C806.8,171.9 809.5,172.0 812.2,172.1C815.0,172.2 817.7,172.3 820.5,172.4C823.2,172.5 825.9,172.6 828.7,172.7C831.4,172.8 834.2,172.9 836.9,173.0C839.6,173.0 842.4,173.1 845.1,173.2C847.9,173.3 850.6,173.4 853.4,173.5C856.2,173.6 858.9,173.7 861.7,173.8C864.5,173.9 867.2,174.0 870.0,174.1C872.8,174.2 875.6,174.3 878.4,174.4C881.2,174.5 884.0,174.6 886.8,174.7C889.6,174.8 892.5,174.9 895.3,175.0C898.1,175.1 901.0,175.1 903.9,175.3C906.7,175.4 909.6,175.5 912.4,175.6C915.3,175.8 918.1,176.0 921.0,176.2C923.8,176.4 926.7,176.6 929.5,176.9C932.3,177.1 935.1,177.4 937.9,177.8C940.7,178.2 943.4,178.6 946.2,179.0C948.9,179.5 951.6,180.0 954.3,180.6C957.0,181.2 959.7,181.9 962.3,182.6C964.9,183.4 967.5,184.2 970.0,185.1C972.5,186.0 975.0,186.9 977.5,188.0C979.9,189.0 982.3,190.2 984.7,191.4C987.1,192.6 989.4,193.8 991.7,195.2C994.0,196.5 996.3,197.9 998.5,199.4C1000.7,200.8 1002.9,202.3 1005.0,203.9C1007.2,205.5 1009.3,207.2 1011.4,208.9C1013.4,210.6 1015.5,212.3 1017.4,214.1C1019.4,216.0 1021.4,217.8 1023.3,219.7C1025.2,221.6 1027.1,223.6 1029.0,225.6C1030.8,227.6 1032.6,229.7 1034.4,231.8C1036.2,233.8 1037.9,236.0 1039.6,238.1C1041.3,240.3 1043.0,242.5 1044.6,244.8C1046.3,247.0 1047.9,249.3 1049.4,251.6C1051.0,253.9 1052.5,256.2 1054.0,258.6C1055.5,260.9 1057.0,263.3 1058.4,265.7C1059.8,268.1 1061.2,270.6 1062.6,273.0C1063.9,275.4 1065.3,277.9 1066.6,280.4C1067.8,282.9 1069.1,285.4 1070.3,287.9C1071.6,290.4 1072.8,292.9 1073.9,295.4C1075.1,297.9 1076.2,300.5 1077.3,303.0C1078.4,305.6 1079.5,308.1 1080.6,310.7C1081.6,313.3 1082.6,315.8 1083.6,318.4C1084.6,321.0 1085.6,323.6 1086.5,326.2C1087.5,328.8 1088.4,331.4 1089.3,334.0C1090.2,336.6 1091.1,339.2 1091.9,341.8C1092.8,344.5 1093.6,347.1 1094.4,349.7C1095.2,352.4 1096.0,355.0 1096.8,357.7C1097.6,360.3 1098.3,363.0 1099.1,365.6C1099.8,368.3 1100.5,371.0 1101.2,373.6C1101.9,376.3 1102.6,379.0 1103.3,381.7C1104.0,384.3 1104.6,387.0 1105.3,389.7C1105.9,392.4 1106.6,395.1 1107.2,397.8C1107.8,400.5 1108.5,403.2 1109.1,405.9C1109.7,408.6 1110.3,411.3 1110.9,414.0C1111.5,416.7 1112.1,419.4 1112.7,422.1C1113.2,424.8 1113.8,427.5 1114.4,430.2C1115.0,432.9 1115.5,435.6 1116.1,438.3C1116.7,441.0 1117.2,443.7 1117.8,446.4C1118.4,449.1 1118.9,451.8 1119.5,454.5C1120.0,457.2 1120.6,460.0 1121.2,462.7C1121.7,465.4 1122.3,468.1 1122.8,470.8C1123.4,473.5 1123.9,476.2 1124.5,478.9C1125.0,481.6 1125.5,484.3 1126.1,487.0C1126.6,489.7 1127.2,492.4 1127.7,495.2C1128.2,497.9 1128.7,500.6 1129.3,503.3C1129.8,506.0 1130.3,508.7 1130.8,511.4C1131.3,514.1 1131.9,516.8 1132.4,519.6C1132.9,522.3 1133.4,525.0 1133.9,527.7C1134.4,530.4 1134.9,533.1 1135.4,535.9C1135.9,538.6 1136.4,541.3 1136.8,544.0C1137.3,546.7 1137.8,549.4 1138.3,552.2C1138.7,554.9 1139.2,557.6 1139.7,560.3C1140.1,563.1 1140.6,565.8 1141.0,568.5C1141.5,571.2 1141.9,574.0 1142.4,576.7C1142.8,579.4 1143.2,582.2 1143.7,584.9C1144.1,587.6 1144.5,590.4 1144.9,593.1C1145.4,595.8 1145.8,598.6 1146.2,601.3C1146.6,604.0 1147.0,606.8 1147.4,609.5C1147.8,612.3 1148.1,615.0 1148.5,617.8C1148.9,620.5 1149.3,623.3 1149.7,626.0C1150.0,628.7 1150.4,631.5 1150.8,634.2C1151.1,637.0 1151.5,639.7 1151.8,642.5C1152.2,645.2 1152.5,648.0 1152.9,650.7C1153.2,653.5 1153.6,656.2 1153.9,659.0C1154.3,661.8 1154.6,664.5 1154.9,667.3C1155.3,670.0 1155.6,672.8 1155.9,675.5C1156.3,678.3 1156.6,681.0 1156.9,683.8C1157.2,686.5 1157.6,689.3 1157.9,692.0C1158.2,694.8 1158.5,697.5 1158.8,700.3C1159.2,703.0 1159.5,705.8 1159.8,708.5C1160.1,711.3 1160.4,714.0 1160.7,716.8C1161.1,719.5 1161.4,722.3 1161.7,725.0C1162.0,727.8 1162.3,730.5 1162.6,733.3C1163.0,736.0 1163.3,738.8 1163.6,741.5C1163.9,744.2 1164.2,747.0 1164.6,749.7C1164.9,752.5 1165.2,755.2 1165.5,757.9C1165.9,760.7 1166.2,763.4 1166.5,766.1C1166.8,768.9 1167.2,771.6 1167.5,774.3C1167.8,777.1 1168.1,779.8 1168.5,782.5C1168.8,785.2 1169.1,788.0 1169.5,790.7C1169.8,793.4 1170.1,796.2 1170.5,798.9C1170.8,801.6 1171.1,804.4 1171.5,807.1C1171.8,809.8 1172.2,812.6 1172.5,815.3C1172.8,818.0 1173.2,820.7 1173.5,823.5C1173.8,826.2 1174.2,829.0 1174.5,831.7C1174.9,834.4 1175.2,837.2 1175.5,839.9C1175.9,842.6 1176.2,845.4 1176.6,848.1C1176.9,850.9 1177.2,853.6 1177.6,856.4C1177.9,859.1 1178.3,861.8 1178.6,864.6C1178.9,867.4 1179.3,870.1 1179.6,872.9C1180.0,875.6 1180.3,878.4 1180.6,881.1C1181.0,883.9 1181.3,886.7 1181.7,889.4C1182.0,892.2 1182.3,895.0 1182.7,897.8C1183.0,900.5 1183.4,903.3 1183.7,906.1C1184.0,908.9 1184.4,911.7 1184.7,914.4C1185.1,917.2 1185.4,920.0 1185.8,922.8C1186.2,925.6 1186.5,928.4 1186.9,931.1C1187.3,933.9 1187.7,936.7 1188.2,939.4C1188.6,942.2 1189.1,945.0 1189.6,947.7C1190.1,950.4 1190.6,953.2 1191.1,955.9C1191.7,958.6 1192.3,961.3 1192.9,964.0C1193.5,966.7 1194.2,969.4 1194.9,972.0C1195.6,974.7 1196.4,977.3 1197.2,980.0C1198.0,982.6 1198.8,985.2 1199.7,987.8C1200.6,990.3 1201.6,992.9 1202.6,995.4C1203.6,997.9 1204.7,1000.4 1205.8,1002.9C1206.9,1005.4 1208.0,1007.8 1209.3,1010.3C1210.5,1012.7 1211.7,1015.1 1213.0,1017.4C1214.4,1019.8 1215.7,1022.1 1217.1,1024.4C1218.6,1026.7 1220.0,1028.9 1221.6,1031.2C1223.1,1033.4 1224.7,1035.6 1226.3,1037.7C1227.9,1039.9 1229.6,1042.0 1231.4,1044.1C1233.1,1046.1 1234.9,1048.2 1236.7,1050.1C1238.6,1052.1 1240.5,1054.1 1242.4,1056.0C1244.4,1057.9 1246.4,1059.8 1248.4,1061.6C1250.5,1063.5 1252.5,1065.3 1254.6,1067.1C1256.8,1068.8 1258.9,1070.6 1261.1,1072.4C1263.2,1074.1 1265.4,1075.8 1267.6,1077.6C1269.8,1079.3 1272.0,1081.0 1274.2,1082.7C1276.4,1084.5 1278.6,1086.2 1280.8,1087.9C1283.0,1089.6 1285.2,1091.3 1287.4,1093.1C1289.6,1094.8 1291.8,1096.6 1293.9,1098.4C1296.1,1100.2 1298.2,1102.0 1300.3,1103.8C1302.4,1105.7 1304.4,1107.5 1306.5,1109.4C1308.5,1111.3 1310.5,1113.2 1312.5,1115.1C1314.5,1117.1 1316.5,1119.0 1318.4,1121.0C1320.3,1123.0 1322.3,1125.0 1324.2,1127.0C1326.1,1129.0 1328.0,1131.0 1329.9,1133.0C1331.8,1135.1 1333.6,1137.1 1335.5,1139.1C1337.4,1141.2 1339.3,1143.2 1341.1,1145.3C1343.0,1147.3 1344.9,1149.3 1346.7,1151.4C1348.6,1153.4 1350.5,1155.5 1352.4,1157.5C1354.3,1159.5 1356.2,1161.5 1358.1,1163.6C1360.0,1165.6 1361.9,1167.6 1363.8,1169.5C1365.7,1171.5 1367.7,1173.5 1369.7,1175.4C1371.6,1177.4 1373.6,1179.3 1375.6,1181.2C1377.6,1183.0 1379.7,1184.9 1381.7,1186.7C1383.8,1188.5 1385.8,1190.3 1387.9,1192.1C1390.0,1193.8 1392.2,1195.5 1394.3,1197.1C1396.5,1198.8 1398.7,1200.4 1400.9,1201.9C1403.1,1203.5 1405.4,1205.0 1407.7,1206.4C1410.0,1207.8 1412.3,1209.2 1414.7,1210.5C1417.0,1211.8 1419.4,1213.1 1421.9,1214.2C1424.3,1215.4 1426.8,1216.5 1429.3,1217.6C1431.8,1218.6 1434.4,1219.6 1436.9,1220.6C1439.5,1221.5 1442.1,1222.4 1444.7,1223.2C1447.4,1224.1 1450.0,1224.9 1452.7,1225.6C1455.3,1226.4 1458.0,1227.1 1460.7,1227.8C1463.4,1228.5 1466.1,1229.1 1468.9,1229.7C1471.6,1230.4 1474.3,1231.0 1477.1,1231.5C1479.8,1232.1 1482.5,1232.6 1485.3,1233.2C1488.0,1233.7 1490.8,1234.2 1493.5,1234.7C1496.3,1235.2 1499.0,1235.7 1501.8,1236.2C1504.5,1236.6 1507.3,1237.1 1510.0,1237.5C1512.8,1238.0 1515.5,1238.4 1518.2,1238.8C1521.0,1239.2 1523.7,1239.6 1526.5,1240.0C1529.2,1240.4 1532.0,1240.8 1534.7,1241.2C1537.5,1241.5 1540.2,1241.9 1543.0,1242.2C1545.7,1242.6 1548.5,1242.9 1551.2,1243.2C1554.0,1243.6 1556.7,1243.9 1559.5,1244.2C1562.2,1244.5 1565.0,1244.8 1567.7,1245.1C1570.4,1245.4 1573.2,1245.7 1575.9,1246.0C1578.7,1246.2 1581.4,1246.5 1584.2,1246.8C1586.9,1247.0 1589.7,1247.3 1592.4,1247.5C1595.2,1247.8 1597.9,1248.0 1600.7,1248.3C1603.4,1248.5 1606.2,1248.7 1608.9,1249.0C1611.7,1249.2 1614.4,1249.4 1617.2,1249.6C1619.9,1249.9 1622.7,1250.1 1625.4,1250.3C1628.2,1250.5 1630.9,1250.7 1633.7,1250.9C1636.4,1251.1 1639.2,1251.3 1642.0,1251.5C1644.7,1251.8 1647.5,1252.0 1650.2,1252.2C1653.0,1252.4 1655.7,1252.6 1658.5,1252.8C1661.2,1253.0 1664.0,1253.2 1666.7,1253.4C1669.5,1253.5 1672.3,1253.7 1675.0,1253.9C1677.8,1254.1 1680.5,1254.3 1683.3,1254.5C1686.0,1254.7 1688.8,1254.9 1691.5,1255.1C1694.3,1255.3 1697.1,1255.4 1699.8,1255.6C1702.6,1255.8 1705.3,1256.0 1708.1,1256.2C1710.9,1256.3 1713.6,1256.5 1716.4,1256.7C1719.1,1256.9 1721.9,1257.0 1724.6,1257.2C1727.4,1257.4 1730.2,1257.6 1732.9,1257.7C1735.7,1257.9 1738.4,1258.1 1741.2,1258.2C1744.0,1258.4 1746.7,1258.6 1749.5,1258.7C1752.2,1258.9 1755.0,1259.1 1757.8,1259.2C1760.5,1259.4 1763.3,1259.5 1766.1,1259.7C1768.8,1259.9 1771.6,1260.0 1774.3,1260.2C1777.1,1260.3 1779.9,1260.5 1782.6,1260.6C1785.4,1260.8 1788.2,1260.9 1790.9,1261.1C1793.7,1261.2 1796.4,1261.4 1799.2,1261.5C1802.0,1261.7 1804.7,1261.8 1807.5,1262.0C1810.3,1262.1 1813.0,1262.3 1815.8,1262.4C1818.5,1262.5 1821.3,1262.7 1824.1,1262.8C1826.8,1263.0 1829.6,1263.1 1832.4,1263.2C1835.1,1263.4 1837.9,1263.5 1840.7,1263.6C1843.4,1263.8 1846.2,1263.9 1848.9,1264.0C1851.7,1264.2 1854.5,1264.3 1857.2,1264.4C1860.0,1264.6 1862.8,1264.7 1865.5,1264.8C1868.3,1264.9 1871.1,1265.1 1873.8,1265.2C1876.6,1265.3 1879.3,1265.4 1882.1,1265.6C1884.9,1265.7 1887.6,1265.8 1890.4,1265.9C1893.2,1266.0 1895.9,1266.2 1898.7,1266.3C1901.5,1266.4 1904.2,1266.5 1907.0,1266.6C1909.8,1266.7 1912.5,1266.8 1915.3,1267.0C1918.0,1267.1 1920.8,1267.2 1923.6,1267.3C1926.3,1267.4 1929.1,1267.5 1931.9,1267.6C1934.6,1267.7 1937.4,1267.8 1940.2,1267.9C1942.9,1268.1 1945.7,1268.2 1948.4,1268.3C1951.2,1268.4 1954.0,1268.5 1956.7,1268.6C1959.5,1268.7 1962.3,1268.8 1965.0,1268.9C1967.8,1269.0 1970.6,1269.1 1973.3,1269.2C1976.1,1269.3 1978.8,1269.4 1981.6,1269.5C1984.4,1269.6 1987.1,1269.6 1989.9,1269.7C1992.7,1269.8 1995.4,1269.9 1998.2,1270.0C2000.9,1270.1 2003.7,1270.2 2006.5,1270.3C2009.2,1270.4 2012.0,1270.5 2014.8,1270.5C2017.5,1270.6 2020.3,1270.7 2023.0,1270.8C2025.8,1270.9 2028.6,1271.0 2031.3,1271.0C2034.1,1271.1 2036.9,1271.2 2039.6,1271.3C2042.4,1271.3 2045.1,1271.4 2047.9,1271.5C2050.7,1271.6 2053.4,1271.6 2056.2,1271.7C2059.0,1271.8 2061.7,1271.9 2064.5,1271.9C2067.2,1272.0 2070.0,1272.1 2072.8,1272.1C2075.5,1272.2 2078.3,1272.3 2081.1,1272.3C2083.8,1272.4 2086.6,1272.4 2089.4,1272.5C2092.1,1272.6 2094.9,1272.6 2097.6,1272.7C2100.4,1272.7 2103.2,1272.8 2105.9,1272.8C2108.7,1272.9 2111.5,1272.9 2114.2,1273.0C2117.0,1273.0 2119.8,1273.1 2122.5,1273.1C2125.3,1273.2 2128.0,1273.2 2130.8,1273.3C2133.6,1273.3 2136.3,1273.3 2139.1,1273.4C2141.9,1273.4 2144.6,1273.5 2147.4,1273.5C2150.2,1273.5 2152.9,1273.6 2155.7,1273.6C2158.5,1273.6 2161.2,1273.7 2164.0,1273.7C2166.8,1273.7 2169.5,1273.7 2172.3,1273.8C2175.1,1273.8 2177.8,1273.8 2180.6,1273.8C2183.4,1273.9 2186.1,1273.9 2188.9,1273.9C2191.7,1273.9 2194.4,1273.9 2197.2,1273.9C2200.0,1274.0 2202.7,1274.0 2205.5,1274.0C2208.3,1274.0 2211.1,1274.0 2213.8,1274.0C2216.6,1274.0 2219.4,1274.0 2222.1,1274.0C2224.9,1274.0 2227.7,1274.0 2230.4,1274.0C2233.2,1274.0 2236.0,1274.0 2238.8,1274.0C2241.5,1274.0 2245.7,1274.0 2247.1,1274.0" fill="none" stroke="#000" stroke-width="12.0" stroke-linecap="round" stroke-linejoin="round"/>
<path d="M505.3,168.0C506.7,167.9 510.9,167.9 513.7,167.8C516.5,167.8 519.3,167.8 522.1,167.7C524.9,167.7 527.7,167.7 530.5,167.7C533.3,167.6 536.1,167.6 538.9,167.6C541.7,167.6 544.5,167.6 547.3,167.6C550.1,167.6 552.8,167.6 555.6,167.6C558.4,167.6 561.2,167.7 564.0,167.7C566.8,167.7 569.6,167.7 572.4,167.7C575.2,167.8 577.9,167.8 580.7,167.8C583.5,167.9 586.3,167.9 589.1,168.0C591.9,168.0 594.7,168.0 597.4,168.1C600.2,168.1 603.0,168.2 605.8,168.2C608.6,168.3 611.3,168.4 614.1,168.4C616.9,168.5 619.7,168.5 622.5,168.6C625.2,168.7 628.0,168.7 630.8,168.8C633.6,168.9 636.4,169.0 639.1,169.0C641.9,169.1 644.7,169.2 647.5,169.3C650.2,169.3 653.0,169.4 655.8,169.5C658.6,169.6 661.3,169.7 664.1,169.7C666.9,169.8 669.7,169.9 672.4,170.0C675.2,170.1 678.0,170.2 680.8,170.3C683.5,170.4 686.3,170.5 689.1,170.5C691.9,170.6 694.6,170.7 697.4,170.8C700.2,170.9 702.9,171.0 705.7,171.1C708.5,171.2 711.3,171.3 714.0,171.4C716.8,171.5 719.6,171.6 722.4,171.7C725.1,171.7 727.9,171.8 730.7,171.9C733.4,172.0 736.2,172.1 739.0,172.2C741.8,172.3 744.5,172.4 747.3,172.5C750.1,172.6 752.9,172.7 755.6,172.7C758.4,172.8 761.2,172.9 764.0,173.0C766.7,173.1 769.5,173.2 772.3,173.3C775.1,173.3 777.9,173.4 780.6,173.5C783.4,173.6 786.2,173.7 789.0,173.7C791.7,173.8 794.5,173.9 797.3,173.9C800.1,174.0 802.9,174.1 805.6,174.1C808.4,174.2 811.2,174.3 814.0,174.3C816.8,174.4 819.6,174.5 822.3,174.5C825.1,174.6 827.9,174.6 830.7,174.7C833.5,174.7 836.3,174.8 839.1,174.8C841.9,174.9 844.6,175.0 847.4,175.0C850.2,175.1 853.0,175.1 855.8,175.2C858.6,175.3 861.4,175.4 864.3,175.4C867.1,175.5 869.9,175.6 872.7,175.7C875.5,175.8 878.3,175.9 881.2,176.0C884.0,176.1 886.8,176.2 889.6,176.3C892.5,176.5 895.3,176.6 898.2,176.8C901.0,176.9 903.9,177.1 906.7,177.3C909.5,177.5 912.4,177.7 915.2,177.9C918.0,178.2 920.9,178.4 923.7,178.7C926.5,179.0 929.3,179.4 932.1,179.8C934.9,180.2 937.7,180.6 940.4,181.1C943.2,181.5 945.9,182.1 948.6,182.7C951.3,183.2 954.0,183.9 956.6,184.6C959.3,185.3 961.9,186.1 964.5,186.9C967.0,187.7 969.6,188.6 972.1,189.6C974.6,190.6 977.1,191.7 979.5,192.8C981.9,193.9 984.3,195.1 986.7,196.4C989.0,197.7 991.3,199.0 993.6,200.4C995.9,201.8 998.2,203.2 1000.4,204.8C1002.6,206.3 1004.7,207.8 1006.9,209.5C1009.0,211.1 1011.1,212.8 1013.2,214.5C1015.2,216.3 1017.3,218.1 1019.3,219.9C1021.2,221.8 1023.2,223.7 1025.1,225.6C1027.0,227.5 1028.9,229.5 1030.8,231.5C1032.6,233.6 1034.4,235.6 1036.2,237.8C1038.0,239.9 1039.7,242.0 1041.4,244.2C1043.1,246.4 1044.8,248.6 1046.4,250.8C1048.1,253.1 1049.7,255.4 1051.2,257.7C1052.8,260.0 1054.3,262.4 1055.8,264.7C1057.3,267.1 1058.8,269.5 1060.2,271.9C1061.6,274.3 1063.0,276.8 1064.4,279.2C1065.8,281.7 1067.1,284.2 1068.4,286.6C1069.7,289.1 1070.9,291.6 1072.2,294.2C1073.4,296.7 1074.6,299.2 1075.7,301.8C1076.9,304.3 1078.0,306.9 1079.1,309.4C1080.2,312.0 1081.3,314.5 1082.3,317.1C1083.4,319.7 1084.4,322.3 1085.4,324.9C1086.4,327.5 1087.3,330.1 1088.3,332.7C1089.2,335.4 1090.1,338.0 1091.0,340.6C1091.9,343.2 1092.7,345.9 1093.6,348.5C1094.4,351.2 1095.2,353.8 1096.0,356.5C1096.8,359.2 1097.6,361.8 1098.3,364.5C1099.1,367.2 1099.8,369.9 1100.5,372.6C1101.3,375.2 1102.0,377.9 1102.6,380.6C1103.3,383.3 1104.0,386.0 1104.7,388.7C1105.3,391.5 1106.0,394.2 1106.6,396.9C1107.2,399.6 1107.8,402.3 1108.4,405.0C1109.1,407.8 1109.6,410.5 1110.2,413.2C1110.8,415.9 1111.4,418.7 1112.0,421.4C1112.6,424.1 1113.1,426.9 1113.7,429.6C1114.2,432.3 1114.8,435.1 1115.3,437.8C1115.9,440.5 1116.4,443.3 1117.0,446.0C1117.5,448.7 1118.1,451.5 1118.6,454.2C1119.2,457.0 1119.7,459.7 1120.2,462.4C1120.8,465.2 1121.3,467.9 1121.8,470.6C1122.4,473.4 1122.9,476.1 1123.4,478.9C1124.0,481.6 1124.5,484.3 1125.0,487.1C1125.5,489.8 1126.1,492.5 1126.6,495.3C1127.1,498.0 1127.6,500.8 1128.1,503.5C1128.6,506.2 1129.1,509.0 1129.7,511.7C1130.2,514.4 1130.7,517.2 1131.2,519.9C1131.7,522.7 1132.2,525.4 1132.7,528.1C1133.1,530.9 1133.6,533.6 1134.1,536.3C1134.6,539.1 1135.1,541.8 1135.6,544.6C1136.0,547.3 1136.5,550.0 1137.0,552.8C1137.4,555.5 1137.9,558.3 1138.4,561.0C1138.8,563.8 1139.3,566.5 1139.7,569.2C1140.2,572.0 1140.6,574.7 1141.1,577.5C1141.5,580.2 1141.9,583.0 1142.4,585.7C1142.8,588.4 1143.2,591.2 1143.7,593.9C1144.1,596.7 1144.5,599.4 1144.9,602.2C1145.3,604.9 1145.7,607.7 1146.1,610.4C1146.5,613.2 1146.9,615.9 1147.3,618.7C1147.7,621.4 1148.0,624.2 1148.4,626.9C1148.8,629.7 1149.2,632.4 1149.5,635.2C1149.9,637.9 1150.3,640.7 1150.6,643.4C1151.0,646.2 1151.3,648.9 1151.7,651.7C1152.0,654.4 1152.4,657.2 1152.7,659.9C1153.0,662.7 1153.4,665.4 1153.7,668.2C1154.0,670.9 1154.4,673.7 1154.7,676.5C1155.0,679.2 1155.4,682.0 1155.7,684.7C1156.0,687.5 1156.3,690.2 1156.6,693.0C1157.0,695.8 1157.3,698.5 1157.6,701.3C1157.9,704.0 1158.2,706.8 1158.5,709.6C1158.8,712.3 1159.1,715.1 1159.4,717.8C1159.7,720.6 1160.0,723.4 1160.3,726.1C1160.6,728.9 1161.0,731.6 1161.3,734.4C1161.6,737.2 1161.9,739.9 1162.2,742.7C1162.4,745.5 1162.7,748.2 1163.0,751.0C1163.3,753.8 1163.6,756.5 1163.9,759.3C1164.2,762.0 1164.5,764.8 1164.8,767.6C1165.1,770.3 1165.4,773.1 1165.7,775.9C1166.0,778.6 1166.3,781.4 1166.6,784.2C1166.9,786.9 1167.2,789.7 1167.5,792.5C1167.8,795.2 1168.2,798.0 1168.5,800.8C1168.8,803.5 1169.1,806.3 1169.4,809.1C1169.7,811.8 1170.0,814.6 1170.3,817.4C1170.6,820.1 1171.0,822.9 1171.3,825.7C1171.6,828.5 1171.9,831.2 1172.2,834.0C1172.6,836.8 1172.9,839.5 1173.2,842.3C1173.6,845.1 1173.9,847.8 1174.2,850.6C1174.6,853.4 1174.9,856.2 1175.3,858.9C1175.6,861.7 1175.9,864.5 1176.3,867.2C1176.7,870.0 1177.0,872.8 1177.4,875.5C1177.7,878.3 1178.1,881.1 1178.5,883.9C1178.8,886.6 1179.2,889.4 1179.6,892.2C1180.0,894.9 1180.4,897.7 1180.8,900.5C1181.1,903.3 1181.5,906.0 1181.9,908.8C1182.3,911.6 1182.8,914.4 1183.2,917.1C1183.6,919.9 1184.0,922.7 1184.4,925.4C1184.9,928.2 1185.3,931.0 1185.8,933.7C1186.2,936.5 1186.7,939.3 1187.1,942.0C1187.6,944.8 1188.1,947.5 1188.6,950.3C1189.1,953.0 1189.6,955.8 1190.1,958.5C1190.7,961.3 1191.2,964.0 1191.8,966.7C1192.4,969.4 1193.0,972.2 1193.6,974.9C1194.2,977.6 1194.8,980.3 1195.5,983.0C1196.2,985.7 1196.8,988.3 1197.6,991.0C1198.3,993.7 1199.0,996.3 1199.8,999.0C1200.5,1001.6 1201.3,1004.2 1202.2,1006.8C1203.0,1009.5 1203.8,1012.1 1204.7,1014.6C1205.6,1017.2 1206.5,1019.8 1207.5,1022.4C1208.5,1024.9 1209.5,1027.4 1210.5,1030.0C1211.5,1032.5 1212.6,1035.0 1213.7,1037.5C1214.8,1040.0 1216.0,1042.4 1217.2,1044.9C1218.4,1047.3 1219.6,1049.7 1220.9,1052.1C1222.1,1054.5 1223.5,1056.9 1224.8,1059.3C1226.2,1061.6 1227.6,1064.0 1229.1,1066.3C1230.6,1068.6 1232.1,1070.9 1233.6,1073.1C1235.2,1075.4 1236.8,1077.6 1238.4,1079.9C1240.0,1082.1 1241.7,1084.3 1243.4,1086.5C1245.2,1088.6 1246.9,1090.8 1248.7,1093.0C1250.5,1095.1 1252.3,1097.2 1254.1,1099.4C1255.9,1101.5 1257.8,1103.6 1259.7,1105.7C1261.6,1107.7 1263.5,1109.8 1265.4,1111.9C1267.3,1113.9 1269.3,1116.0 1271.2,1118.0C1273.2,1120.1 1275.2,1122.1 1277.1,1124.1C1279.1,1126.1 1281.1,1128.1 1283.1,1130.1C1285.1,1132.1 1287.1,1134.1 1289.1,1136.1C1291.2,1138.1 1293.2,1140.1 1295.2,1142.1C1297.2,1144.0 1299.3,1146.0 1301.3,1147.9C1303.3,1149.9 1305.4,1151.8 1307.4,1153.8C1309.5,1155.7 1311.6,1157.6 1313.6,1159.5C1315.7,1161.4 1317.8,1163.3 1319.9,1165.1C1322.0,1167.0 1324.1,1168.8 1326.2,1170.7C1328.3,1172.5 1330.5,1174.3 1332.6,1176.1C1334.7,1177.9 1336.9,1179.7 1339.0,1181.5C1341.2,1183.2 1343.4,1184.9 1345.6,1186.7C1347.7,1188.4 1349.9,1190.1 1352.1,1191.7C1354.4,1193.4 1356.6,1195.0 1358.8,1196.7C1361.1,1198.3 1363.3,1199.8 1365.6,1201.4C1367.9,1202.9 1370.2,1204.5 1372.5,1205.9C1374.8,1207.4 1377.1,1208.9 1379.4,1210.3C1381.8,1211.7 1384.2,1213.0 1386.5,1214.4C1388.9,1215.7 1391.3,1217.0 1393.8,1218.2C1396.2,1219.4 1398.6,1220.6 1401.1,1221.8C1403.6,1222.9 1406.1,1224.0 1408.6,1225.1C1411.1,1226.1 1413.6,1227.1 1416.2,1228.0C1418.8,1229.0 1421.4,1229.9 1424.0,1230.7C1426.6,1231.6 1429.2,1232.4 1431.8,1233.1C1434.5,1233.9 1437.2,1234.6 1439.8,1235.3C1442.5,1236.0 1445.2,1236.7 1447.9,1237.3C1450.6,1237.9 1453.3,1238.5 1456.0,1239.1C1458.8,1239.6 1461.5,1240.2 1464.2,1240.7C1467.0,1241.2 1469.7,1241.7 1472.5,1242.2C1475.2,1242.6 1478.0,1243.1 1480.7,1243.5C1483.5,1244.0 1486.3,1244.4 1489.0,1244.8C1491.8,1245.2 1494.6,1245.7 1497.3,1246.1C1500.1,1246.5 1502.8,1246.8 1505.6,1247.2C1508.4,1247.6 1511.1,1248.0 1513.9,1248.3C1516.7,1248.7 1519.4,1249.0 1522.2,1249.4C1525.0,1249.7 1527.7,1250.0 1530.5,1250.3C1533.3,1250.7 1536.1,1251.0 1538.8,1251.3C1541.6,1251.6 1544.4,1251.9 1547.1,1252.2C1549.9,1252.4 1552.7,1252.7 1555.5,1253.0C1558.2,1253.3 1561.0,1253.5 1563.8,1253.8C1566.5,1254.1 1569.3,1254.3 1572.1,1254.6C1574.9,1254.8 1577.6,1255.1 1580.4,1255.3C1583.2,1255.5 1586.0,1255.8 1588.7,1256.0C1591.5,1256.2 1594.3,1256.5 1597.1,1256.7C1599.8,1256.9 1602.6,1257.1 1605.4,1257.3C1608.2,1257.5 1610.9,1257.8 1613.7,1258.0C1616.5,1258.2 1619.3,1258.4 1622.0,1258.6C1624.8,1258.8 1627.6,1259.0 1630.4,1259.2C1633.2,1259.4 1635.9,1259.6 1638.7,1259.8C1641.5,1260.0 1644.3,1260.2 1647.0,1260.4C1649.8,1260.6 1652.6,1260.7 1655.4,1260.9C1658.1,1261.1 1660.9,1261.3 1663.7,1261.5C1666.5,1261.7 1669.3,1261.9 1672.0,1262.1C1674.8,1262.3 1677.6,1262.4 1680.4,1262.6C1683.1,1262.8 1685.9,1263.0 1688.7,1263.2C1691.5,1263.4 1694.2,1263.5 1697.0,1263.7C1699.8,1263.9 1702.6,1264.1 1705.4,1264.3C1708.1,1264.4 1710.9,1264.6 1713.7,1264.8C1716.5,1265.0 1719.2,1265.2 1722.0,1265.3C1724.8,1265.5 1727.6,1265.7 1730.3,1265.8C1733.1,1266.0 1735.9,1266.2 1738.7,1266.4C1741.5,1266.5 1744.2,1266.7 1747.0,1266.9C1749.8,1267.0 1752.6,1267.2 1755.3,1267.4C1758.1,1267.5 1760.9,1267.7 1763.7,1267.9C1766.4,1268.0 1769.2,1268.2 1772.0,1268.4C1774.8,1268.5 1777.6,1268.7 1780.3,1268.9C1783.1,1269.0 1785.9,1269.2 1788.7,1269.3C1791.4,1269.5 1794.2,1269.7 1797.0,1269.8C1799.8,1270.0 1802.6,1270.1 1805.3,1270.3C1808.1,1270.5 1810.9,1270.6 1813.7,1270.8C1816.4,1270.9 1819.2,1271.1 1822.0,1271.2C1824.8,1271.4 1827.5,1271.5 1830.3,1271.7C1833.1,1271.8 1835.9,1272.0 1838.7,1272.1C1841.4,1272.3 1844.2,1272.4 1847.0,1272.6C1849.8,1272.7 1852.5,1272.9 1855.3,1273.0C1858.1,1273.2 1860.9,1273.3 1863.7,1273.5C1866.4,1273.6 1869.2,1273.8 1872.0,1273.9C1874.8,1274.1 1877.5,1274.2 1880.3,1274.4C1883.1,1274.5 1885.9,1274.6 1888.7,1274.8C1891.4,1274.9 1894.2,1275.1 1897.0,1275.2C1899.8,1275.4 1902.5,1275.5 1905.3,1275.6C1908.1,1275.8 1910.9,1275.9 1913.7,1276.1C1916.4,1276.2 1919.2,1276.3 1922.0,1276.5C1924.8,1276.6 1927.5,1276.7 1930.3,1276.9C1933.1,1277.0 1935.9,1277.2 1938.7,1277.3C1941.4,1277.4 1944.2,1277.6 1947.0,1277.7C1949.8,1277.8 1952.6,1278.0 1955.3,1278.1C1958.1,1278.2 1960.9,1278.4 1963.7,1278.5C1966.4,1278.6 1969.2,1278.8 1972.0,1278.9C1974.8,1279.0 1977.6,1279.2 1980.3,1279.3C1983.1,1279.4 1985.9,1279.6 1988.7,1279.7C1991.5,1279.8 1994.2,1280.0 1997.0,1280.1C1999.8,1280.2 2002.6,1280.3 2005.3,1280.5C2008.1,1280.6 2010.9,1280.7 2013.7,1280.9C2016.5,1281.0 2019.2,1281.1 2022.0,1281.2C2024.8,1281.4 2027.6,1281.5 2030.4,1281.6C2033.1,1281.8 2035.9,1281.9 2038.7,1282.0C2041.5,1282.1 2044.3,1282.3 2047.0,1282.4C2049.8,1282.5 2052.6,1282.6 2055.4,1282.8C2058.1,1282.9 2060.9,1283.0 2063.7,1283.1C2066.5,1283.3 2069.3,1283.4 2072.0,1283.5C2074.8,1283.7 2077.6,1283.8 2080.4,1283.9C2083.2,1284.0 2085.9,1284.1 2088.7,1284.3C2091.5,1284.4 2094.3,1284.5 2097.1,1284.6C2099.8,1284.8 2102.6,1284.9 2105.4,1285.0C2108.2,1285.1 2111.0,1285.3 2113.7,1285.4C2116.5,1285.5 2119.3,1285.6 2122.1,1285.8C2124.9,1285.9 2127.6,1286.0 2130.4,1286.1C2133.2,1286.3 2136.0,1286.4 2138.8,1286.5C2141.5,1286.6 2144.3,1286.7 2147.1,1286.9C2149.9,1287.0 2152.7,1287.1 2155.4,1287.2C2158.2,1287.4 2161.0,1287.5 2163.8,1287.6C2166.6,1287.7 2169.3,1287.8 2172.1,1288.0C2174.9,1288.1 2177.7,1288.2 2180.5,1288.3C2183.2,1288.5 2186.0,1288.6 2188.8,1288.7C2191.6,1288.8 2194.4,1289.0 2197.2,1289.1C2199.9,1289.2 2202.7,1289.3 2205.5,1289.4C2208.3,1289.6 2211.1,1289.7 2213.8,1289.8C2216.6,1289.9 2219.4,1290.1 2222.2,1290.2C2225.0,1290.3 2227.7,1290.4 2230.5,1290.6C2233.3,1290.7 2236.1,1290.8 2238.9,1290.9C2241.7,1291.1 2245.8,1291.2 2247.2,1291.3" fill="none" stroke="#000" stroke-width="12.0" stroke-linecap="round" stroke-linejoin="round"/>
<path d="M505.3,168.0C506.7,168.0 510.9,168.0 513.7,168.0C516.5,168.0 519.3,168.0 522.1,168.0C524.9,168.0 527.7,168.0 530.5,168.1C533.3,168.1 536.1,168.1 538.9,168.2C541.7,168.2 544.5,168.2 547.3,168.3C550.1,168.3 552.9,168.4 555.7,168.4C558.5,168.4 561.3,168.5 564.1,168.6C566.9,168.6 569.7,168.7 572.5,168.7C575.3,168.8 578.1,168.9 580.9,168.9C583.7,169.0 586.5,169.1 589.2,169.1C592.0,169.2 594.8,169.3 597.6,169.3C600.4,169.4 603.2,169.5 606.0,169.6C608.8,169.7 611.5,169.7 614.3,169.8C617.1,169.9 619.9,170.0 622.7,170.1C625.5,170.2 628.3,170.3 631.0,170.4C633.8,170.5 636.6,170.6 639.4,170.7C642.2,170.7 645.0,170.8 647.7,170.9C650.5,171.0 653.3,171.1 656.1,171.2C658.9,171.3 661.7,171.4 664.4,171.6C667.2,171.7 670.0,171.8 672.8,171.9C675.6,172.0 678.3,172.1 681.1,172.2C683.9,172.3 686.7,172.4 689.5,172.5C692.2,172.6 695.0,172.7 697.8,172.8C700.6,172.9 703.4,173.0 706.2,173.1C708.9,173.3 711.7,173.4 714.5,173.5C717.3,173.6 720.1,173.7 722.8,173.8C725.6,173.9 728.4,174.0 731.2,174.1C734.0,174.2 736.7,174.3 739.5,174.4C742.3,174.5 745.1,174.6 747.9,174.7C750.7,174.8 753.4,174.9 756.2,175.0C759.0,175.1 761.8,175.2 764.6,175.3C767.3,175.4 770.1,175.5 772.9,175.6C775.7,175.7 778.5,175.8 781.3,175.9C784.1,176.0 786.8,176.1 789.6,176.2C792.4,176.3 795.2,176.3 798.0,176.4C800.8,176.5 803.6,176.6 806.3,176.7C809.1,176.8 811.9,176.8 814.7,176.9C817.5,177.0 820.3,177.1 823.1,177.1C825.9,177.2 828.7,177.3 831.5,177.3C834.2,177.4 837.0,177.5 839.8,177.5C842.6,177.6 845.4,177.7 848.2,177.8C851.0,177.8 853.8,177.9 856.6,178.0C859.4,178.1 862.2,178.2 865.0,178.3C867.8,178.4 870.6,178.5 873.5,178.6C876.3,178.7 879.1,178.8 881.9,178.9C884.7,179.1 887.5,179.2 890.3,179.4C893.2,179.5 896.0,179.7 898.8,179.9C901.6,180.1 904.5,180.3 907.3,180.5C910.1,180.7 913.0,180.9 915.8,181.2C918.6,181.5 921.4,181.8 924.2,182.1C927.0,182.4 929.8,182.8 932.6,183.2C935.4,183.6 938.2,184.0 940.9,184.5C943.7,185.0 946.4,185.5 949.1,186.1C951.9,186.6 954.6,187.3 957.3,187.9C959.9,188.6 962.6,189.4 965.2,190.2C967.8,191.0 970.4,191.8 973.0,192.8C975.6,193.7 978.1,194.7 980.6,195.8C983.1,196.8 985.6,198.0 988.0,199.2C990.5,200.3 992.9,201.6 995.2,202.9C997.6,204.3 999.9,205.6 1002.2,207.1C1004.5,208.5 1006.8,210.1 1009.0,211.6C1011.2,213.2 1013.3,214.8 1015.4,216.5C1017.5,218.2 1019.6,220.0 1021.6,221.8C1023.7,223.6 1025.6,225.4 1027.6,227.3C1029.5,229.3 1031.3,231.2 1033.2,233.3C1035.0,235.3 1036.8,237.4 1038.5,239.5C1040.2,241.6 1041.8,243.8 1043.5,246.0C1045.1,248.3 1046.6,250.5 1048.2,252.9C1049.7,255.2 1051.1,257.5 1052.6,259.9C1054.0,262.3 1055.4,264.7 1056.8,267.1C1058.1,269.6 1059.5,272.1 1060.8,274.6C1062.0,277.1 1063.3,279.6 1064.5,282.1C1065.8,284.7 1067.0,287.2 1068.1,289.8C1069.3,292.3 1070.5,294.9 1071.6,297.5C1072.7,300.1 1073.8,302.7 1074.9,305.3C1076.0,307.9 1077.1,310.5 1078.1,313.1C1079.2,315.7 1080.2,318.3 1081.2,320.9C1082.3,323.6 1083.3,326.2 1084.2,328.8C1085.2,331.4 1086.2,334.1 1087.1,336.7C1088.1,339.3 1089.0,342.0 1089.9,344.6C1090.8,347.3 1091.7,349.9 1092.6,352.5C1093.5,355.2 1094.3,357.9 1095.2,360.5C1096.0,363.2 1096.9,365.8 1097.7,368.5C1098.5,371.2 1099.3,373.8 1100.1,376.5C1100.9,379.2 1101.6,381.9 1102.4,384.5C1103.2,387.2 1103.9,389.9 1104.6,392.6C1105.4,395.3 1106.1,398.0 1106.8,400.7C1107.5,403.4 1108.2,406.1 1108.9,408.8C1109.5,411.5 1110.2,414.2 1110.9,416.9C1111.5,419.6 1112.2,422.3 1112.8,425.0C1113.4,427.7 1114.0,430.4 1114.6,433.1C1115.2,435.8 1115.8,438.6 1116.4,441.3C1117.0,444.0 1117.6,446.7 1118.2,449.5C1118.7,452.2 1119.3,454.9 1119.8,457.6C1120.4,460.4 1120.9,463.1 1121.4,465.8C1122.0,468.6 1122.5,471.3 1123.0,474.1C1123.5,476.8 1124.0,479.5 1124.5,482.3C1125.0,485.0 1125.5,487.8 1126.0,490.5C1126.4,493.3 1126.9,496.0 1127.4,498.8C1127.8,501.5 1128.3,504.3 1128.8,507.0C1129.2,509.8 1129.7,512.5 1130.1,515.3C1130.5,518.0 1131.0,520.8 1131.4,523.5C1131.8,526.3 1132.2,529.1 1132.7,531.8C1133.1,534.6 1133.5,537.3 1133.9,540.1C1134.3,542.9 1134.7,545.6 1135.1,548.4C1135.5,551.1 1135.9,553.9 1136.3,556.7C1136.7,559.4 1137.1,562.2 1137.5,565.0C1137.9,567.7 1138.3,570.5 1138.6,573.3C1139.0,576.0 1139.4,578.8 1139.8,581.6C1140.2,584.3 1140.5,587.1 1140.9,589.9C1141.3,592.6 1141.7,595.4 1142.0,598.2C1142.4,600.9 1142.8,603.7 1143.2,606.5C1143.5,609.2 1143.9,612.0 1144.3,614.8C1144.7,617.5 1145.0,620.3 1145.4,623.1C1145.8,625.8 1146.2,628.6 1146.5,631.4C1146.9,634.1 1147.3,636.9 1147.6,639.6C1148.0,642.4 1148.4,645.2 1148.7,647.9C1149.1,650.7 1149.5,653.5 1149.8,656.2C1150.2,659.0 1150.6,661.8 1150.9,664.5C1151.3,667.3 1151.7,670.0 1152.0,672.8C1152.4,675.6 1152.7,678.3 1153.1,681.1C1153.5,683.9 1153.8,686.6 1154.2,689.4C1154.5,692.2 1154.9,694.9 1155.2,697.7C1155.6,700.4 1155.9,703.2 1156.3,706.0C1156.6,708.7 1157.0,711.5 1157.3,714.3C1157.6,717.0 1158.0,719.8 1158.3,722.6C1158.7,725.3 1159.0,728.1 1159.3,730.9C1159.6,733.6 1160.0,736.4 1160.3,739.2C1160.6,741.9 1160.9,744.7 1161.3,747.4C1161.6,750.2 1161.9,753.0 1162.2,755.7C1162.5,758.5 1162.8,761.3 1163.1,764.0C1163.4,766.8 1163.7,769.6 1164.0,772.4C1164.3,775.1 1164.6,777.9 1164.9,780.7C1165.2,783.4 1165.5,786.2 1165.8,789.0C1166.1,791.7 1166.4,794.5 1166.6,797.3C1166.9,800.0 1167.2,802.8 1167.5,805.6C1167.8,808.4 1168.1,811.1 1168.4,813.9C1168.6,816.7 1168.9,819.4 1169.2,822.2C1169.5,825.0 1169.8,827.8 1170.1,830.5C1170.4,833.3 1170.7,836.1 1171.0,838.8C1171.3,841.6 1171.6,844.4 1171.9,847.2C1172.2,849.9 1172.5,852.7 1172.8,855.5C1173.1,858.3 1173.4,861.0 1173.7,863.8C1174.0,866.6 1174.3,869.3 1174.7,872.1C1175.0,874.9 1175.3,877.7 1175.7,880.4C1176.0,883.2 1176.4,886.0 1176.7,888.8C1177.1,891.5 1177.4,894.3 1177.8,897.1C1178.2,899.9 1178.5,902.6 1178.9,905.4C1179.3,908.2 1179.7,910.9 1180.1,913.7C1180.5,916.5 1180.9,919.3 1181.3,922.0C1181.8,924.8 1182.2,927.6 1182.6,930.4C1183.1,933.1 1183.5,935.9 1184.0,938.7C1184.5,941.4 1184.9,944.2 1185.4,947.0C1185.9,949.7 1186.4,952.5 1187.0,955.2C1187.5,958.0 1188.0,960.7 1188.6,963.5C1189.2,966.2 1189.7,969.0 1190.3,971.7C1190.9,974.4 1191.6,977.1 1192.2,979.9C1192.8,982.6 1193.5,985.3 1194.2,988.0C1194.9,990.7 1195.6,993.4 1196.3,996.0C1197.1,998.7 1197.8,1001.4 1198.6,1004.1C1199.4,1006.7 1200.2,1009.4 1201.0,1012.0C1201.9,1014.6 1202.7,1017.2 1203.6,1019.9C1204.5,1022.5 1205.4,1025.1 1206.4,1027.6C1207.4,1030.2 1208.3,1032.8 1209.4,1035.3C1210.4,1037.9 1211.4,1040.4 1212.5,1042.9C1213.6,1045.5 1214.7,1048.0 1215.9,1050.5C1217.0,1052.9 1218.2,1055.4 1219.5,1057.9C1220.7,1060.3 1222.0,1062.7 1223.3,1065.1C1224.6,1067.5 1225.9,1069.9 1227.3,1072.3C1228.7,1074.7 1230.1,1077.0 1231.6,1079.4C1233.1,1081.7 1234.6,1084.0 1236.1,1086.3C1237.6,1088.6 1239.2,1090.8 1240.8,1093.1C1242.4,1095.3 1244.1,1097.6 1245.8,1099.8C1247.4,1102.0 1249.1,1104.2 1250.9,1106.3C1252.6,1108.5 1254.4,1110.7 1256.2,1112.8C1258.0,1114.9 1259.8,1117.0 1261.7,1119.1C1263.5,1121.2 1265.4,1123.3 1267.3,1125.4C1269.3,1127.4 1271.2,1129.5 1273.1,1131.5C1275.1,1133.5 1277.1,1135.5 1279.1,1137.5C1281.1,1139.5 1283.1,1141.5 1285.2,1143.4C1287.2,1145.4 1289.3,1147.3 1291.4,1149.2C1293.4,1151.2 1295.5,1153.1 1297.7,1155.0C1299.8,1156.8 1301.9,1158.7 1304.1,1160.6C1306.2,1162.4 1308.4,1164.3 1310.5,1166.1C1312.7,1167.9 1314.9,1169.7 1317.1,1171.5C1319.3,1173.3 1321.5,1175.1 1323.7,1176.8C1325.9,1178.6 1328.2,1180.3 1330.4,1182.0C1332.6,1183.8 1334.9,1185.5 1337.1,1187.2C1339.4,1188.9 1341.6,1190.6 1343.9,1192.2C1346.1,1193.9 1348.4,1195.6 1350.6,1197.2C1352.9,1198.8 1355.2,1200.4 1357.5,1202.0C1359.7,1203.6 1362.0,1205.2 1364.3,1206.7C1366.6,1208.3 1368.9,1209.8 1371.3,1211.3C1373.6,1212.8 1375.9,1214.2 1378.3,1215.6C1380.6,1217.1 1383.0,1218.5 1385.4,1219.8C1387.8,1221.2 1390.2,1222.5 1392.6,1223.8C1395.0,1225.1 1397.4,1226.3 1399.9,1227.5C1402.3,1228.7 1404.8,1229.9 1407.3,1231.0C1409.8,1232.1 1412.3,1233.2 1414.8,1234.2C1417.4,1235.2 1419.9,1236.2 1422.5,1237.2C1425.1,1238.1 1427.7,1239.0 1430.3,1239.8C1432.9,1240.7 1435.5,1241.5 1438.2,1242.3C1440.8,1243.1 1443.5,1243.8 1446.2,1244.6C1448.8,1245.3 1451.5,1246.0 1454.2,1246.6C1456.9,1247.3 1459.6,1247.9 1462.3,1248.5C1465.0,1249.1 1467.8,1249.7 1470.5,1250.3C1473.2,1250.8 1476.0,1251.3 1478.7,1251.9C1481.5,1252.4 1484.2,1252.9 1487.0,1253.4C1489.7,1253.9 1492.5,1254.3 1495.2,1254.8C1498.0,1255.2 1500.7,1255.7 1503.5,1256.1C1506.3,1256.6 1509.0,1257.0 1511.8,1257.4C1514.5,1257.8 1517.3,1258.2 1520.1,1258.6C1522.8,1258.9 1525.6,1259.3 1528.4,1259.7C1531.1,1260.0 1533.9,1260.4 1536.7,1260.7C1539.5,1261.1 1542.2,1261.4 1545.0,1261.7C1547.8,1262.0 1550.6,1262.3 1553.3,1262.6C1556.1,1262.9 1558.9,1263.2 1561.7,1263.5C1564.5,1263.8 1567.2,1264.1 1570.0,1264.3C1572.8,1264.6 1575.6,1264.9 1578.4,1265.1C1581.2,1265.4 1583.9,1265.6 1586.7,1265.9C1589.5,1266.1 1592.3,1266.4 1595.1,1266.6C1597.9,1266.8 1600.7,1267.0 1603.4,1267.3C1606.2,1267.5 1609.0,1267.7 1611.8,1267.9C1614.6,1268.1 1617.4,1268.3 1620.2,1268.5C1623.0,1268.7 1625.7,1268.9 1628.5,1269.1C1631.3,1269.3 1634.1,1269.5 1636.9,1269.7C1639.7,1269.9 1642.5,1270.1 1645.3,1270.3C1648.0,1270.5 1650.8,1270.7 1653.6,1270.9C1656.4,1271.1 1659.2,1271.3 1662.0,1271.4C1664.8,1271.6 1667.5,1271.8 1670.3,1272.0C1673.1,1272.2 1675.9,1272.4 1678.7,1272.5C1681.5,1272.7 1684.3,1272.9 1687.0,1273.1C1689.8,1273.2 1692.6,1273.4 1695.4,1273.6C1698.2,1273.8 1701.0,1273.9 1703.8,1274.1C1706.5,1274.3 1709.3,1274.4 1712.1,1274.6C1714.9,1274.8 1717.7,1274.9 1720.5,1275.1C1723.2,1275.3 1726.0,1275.4 1728.8,1275.6C1731.6,1275.8 1734.4,1275.9 1737.2,1276.1C1739.9,1276.2 1742.7,1276.4 1745.5,1276.6C1748.3,1276.7 1751.1,1276.9 1753.9,1277.0C1756.6,1277.2 1759.4,1277.3 1762.2,1277.5C1765.0,1277.6 1767.8,1277.8 1770.6,1277.9C1773.3,1278.1 1776.1,1278.2 1778.9,1278.4C1781.7,1278.5 1784.5,1278.6 1787.3,1278.8C1790.0,1278.9 1792.8,1279.1 1795.6,1279.2C1798.4,1279.4 1801.2,1279.5 1803.9,1279.6C1806.7,1279.8 1809.5,1279.9 1812.3,1280.0C1815.1,1280.2 1817.9,1280.3 1820.6,1280.4C1823.4,1280.6 1826.2,1280.7 1829.0,1280.8C1831.8,1281.0 1834.6,1281.1 1837.3,1281.2C1840.1,1281.4 1842.9,1281.5 1845.7,1281.6C1848.5,1281.7 1851.3,1281.9 1854.0,1282.0C1856.8,1282.1 1859.6,1282.2 1862.4,1282.3C1865.2,1282.5 1868.0,1282.6 1870.7,1282.7C1873.5,1282.8 1876.3,1282.9 1879.1,1283.1C1881.9,1283.2 1884.7,1283.3 1887.4,1283.4C1890.2,1283.5 1893.0,1283.6 1895.8,1283.7C1898.6,1283.8 1901.4,1284.0 1904.1,1284.1C1906.9,1284.2 1909.7,1284.3 1912.5,1284.4C1915.3,1284.5 1918.1,1284.6 1920.9,1284.7C1923.6,1284.8 1926.4,1284.9 1929.2,1285.0C1932.0,1285.1 1934.8,1285.2 1937.6,1285.3C1940.4,1285.4 1943.1,1285.5 1945.9,1285.6C1948.7,1285.7 1951.5,1285.8 1954.3,1285.9C1957.1,1286.0 1959.9,1286.1 1962.7,1286.2C1965.4,1286.3 1968.2,1286.4 1971.0,1286.5C1973.8,1286.6 1976.6,1286.7 1979.4,1286.8C1982.2,1286.9 1985.0,1287.0 1987.7,1287.1C1990.5,1287.2 1993.3,1287.2 1996.1,1287.3C1998.9,1287.4 2001.7,1287.5 2004.5,1287.6C2007.3,1287.7 2010.1,1287.8 2012.9,1287.9C2015.6,1288.0 2018.4,1288.0 2021.2,1288.1C2024.0,1288.2 2026.8,1288.3 2029.6,1288.4C2032.4,1288.5 2035.2,1288.6 2038.0,1288.7C2040.7,1288.7 2043.5,1288.8 2046.3,1288.9C2049.1,1289.0 2051.9,1289.1 2054.7,1289.2C2057.5,1289.3 2060.3,1289.4 2063.1,1289.4C2065.9,1289.5 2068.6,1289.6 2071.4,1289.7C2074.2,1289.8 2077.0,1289.9 2079.8,1290.0C2082.6,1290.1 2085.4,1290.1 2088.2,1290.2C2091.0,1290.3 2093.7,1290.4 2096.5,1290.5C2099.3,1290.6 2102.1,1290.7 2104.9,1290.8C2107.7,1290.9 2110.5,1291.0 2113.3,1291.0C2116.1,1291.1 2118.8,1291.2 2121.6,1291.3C2124.4,1291.4 2127.2,1291.5 2130.0,1291.6C2132.8,1291.7 2135.6,1291.8 2138.4,1291.9C2141.1,1292.0 2143.9,1292.1 2146.7,1292.2C2149.5,1292.3 2152.3,1292.4 2155.1,1292.5C2157.9,1292.6 2160.7,1292.7 2163.4,1292.8C2166.2,1292.9 2169.0,1293.0 2171.8,1293.1C2174.6,1293.2 2177.4,1293.3 2180.2,1293.4C2182.9,1293.5 2185.7,1293.6 2188.5,1293.7C2191.3,1293.8 2194.1,1293.9 2196.9,1294.0C2199.6,1294.1 2202.4,1294.3 2205.2,1294.4C2208.0,1294.5 2210.8,1294.6 2213.6,1294.7C2216.3,1294.8 2219.1,1295.0 2221.9,1295.1C2224.7,1295.2 2227.5,1295.3 2230.2,1295.4C2233.0,1295.6 2235.8,1295.7 2238.6,1295.8C2241.4,1295.9 2245.5,1296.1 2246.9,1296.2" fill="none" stroke="#000" stroke-width="12.0" stroke-linecap="round" stroke-linejoin="round"/>
<path d="M505.3,167.8C506.7,167.8 510.9,167.9 513.7,168.0C516.5,168.1 519.3,168.2 522.1,168.3C525.0,168.4 527.8,168.5 530.6,168.6C533.4,168.7 536.2,168.8 539.0,168.9C541.8,169.0 544.6,169.1 547.4,169.2C550.2,169.3 553.0,169.4 555.8,169.5C558.6,169.6 561.4,169.7 564.2,169.8C567.0,169.9 569.8,170.0 572.6,170.1C575.4,170.2 578.2,170.4 581.0,170.5C583.8,170.6 586.6,170.7 589.4,170.8C592.1,170.9 594.9,171.0 597.7,171.2C600.5,171.3 603.3,171.4 606.1,171.5C608.9,171.6 611.7,171.8 614.5,171.9C617.3,172.0 620.1,172.1 622.8,172.2C625.6,172.4 628.4,172.5 631.2,172.6C634.0,172.7 636.8,172.9 639.6,173.0C642.4,173.1 645.1,173.2 647.9,173.3C650.7,173.5 653.5,173.6 656.3,173.7C659.1,173.8 661.9,174.0 664.6,174.1C667.4,174.2 670.2,174.3 673.0,174.5C675.8,174.6 678.6,174.7 681.4,174.8C684.1,175.0 686.9,175.1 689.7,175.2C692.5,175.3 695.3,175.4 698.1,175.6C700.8,175.7 703.6,175.8 706.4,175.9C709.2,176.1 712.0,176.2 714.8,176.3C717.5,176.4 720.3,176.5 723.1,176.7C725.9,176.8 728.7,176.9 731.5,177.0C734.3,177.1 737.0,177.2 739.8,177.4C742.6,177.5 745.4,177.6 748.2,177.7C751.0,177.8 753.8,177.9 756.5,178.0C759.3,178.1 762.1,178.2 764.9,178.4C767.7,178.5 770.5,178.6 773.3,178.7C776.1,178.8 778.8,178.9 781.6,179.0C784.4,179.1 787.2,179.2 790.0,179.3C792.8,179.4 795.6,179.5 798.4,179.6C801.2,179.7 804.0,179.7 806.8,179.8C809.6,179.9 812.4,180.0 815.1,180.1C817.9,180.2 820.7,180.3 823.5,180.4C826.3,180.4 829.1,180.5 831.9,180.6C834.7,180.7 837.5,180.8 840.3,180.9C843.1,180.9 845.9,181.0 848.7,181.1C851.5,181.2 854.4,181.3 857.2,181.4C860.0,181.5 862.8,181.6 865.6,181.8C868.4,181.9 871.2,182.0 874.0,182.1C876.8,182.3 879.7,182.4 882.5,182.6C885.3,182.8 888.1,182.9 890.9,183.1C893.8,183.3 896.6,183.5 899.4,183.7C902.3,184.0 905.1,184.2 907.9,184.4C910.7,184.7 913.6,185.0 916.4,185.3C919.2,185.6 922.0,185.9 924.8,186.3C927.7,186.7 930.5,187.1 933.2,187.5C936.0,188.0 938.8,188.4 941.6,189.0C944.3,189.5 947.1,190.0 949.8,190.7C952.5,191.3 955.2,191.9 957.9,192.7C960.6,193.4 963.2,194.1 965.8,195.0C968.5,195.8 971.1,196.7 973.7,197.6C976.2,198.6 978.8,199.6 981.3,200.7C983.8,201.7 986.3,202.9 988.7,204.1C991.2,205.3 993.6,206.6 996.0,207.9C998.3,209.2 1000.7,210.6 1003.0,212.0C1005.3,213.5 1007.5,215.0 1009.7,216.5C1011.9,218.1 1014.1,219.7 1016.2,221.4C1018.3,223.1 1020.4,224.8 1022.5,226.6C1024.5,228.4 1026.5,230.2 1028.4,232.1C1030.3,234.0 1032.2,236.0 1034.0,238.0C1035.9,240.0 1037.6,242.1 1039.4,244.2C1041.1,246.3 1042.8,248.5 1044.4,250.7C1046.0,252.9 1047.6,255.2 1049.1,257.5C1050.6,259.8 1052.1,262.1 1053.5,264.5C1055.0,266.9 1056.4,269.3 1057.7,271.7C1059.1,274.1 1060.4,276.6 1061.7,279.1C1063.0,281.6 1064.3,284.1 1065.5,286.7C1066.7,289.2 1067.9,291.8 1069.1,294.4C1070.3,296.9 1071.4,299.5 1072.5,302.1C1073.6,304.7 1074.7,307.3 1075.8,309.9C1076.9,312.5 1078.0,315.2 1079.0,317.8C1080.1,320.4 1081.1,323.0 1082.1,325.6C1083.1,328.3 1084.1,330.9 1085.1,333.5C1086.0,336.2 1087.0,338.8 1087.9,341.5C1088.9,344.1 1089.8,346.8 1090.7,349.4C1091.6,352.1 1092.5,354.7 1093.3,357.4C1094.2,360.1 1095.0,362.7 1095.9,365.4C1096.7,368.1 1097.5,370.7 1098.3,373.4C1099.2,376.1 1099.9,378.8 1100.7,381.4C1101.5,384.1 1102.3,386.8 1103.0,389.5C1103.8,392.2 1104.5,394.9 1105.2,397.6C1105.9,400.3 1106.6,403.0 1107.3,405.7C1108.0,408.4 1108.7,411.1 1109.4,413.8C1110.0,416.5 1110.7,419.2 1111.3,421.9C1112.0,424.6 1112.6,427.4 1113.2,430.1C1113.8,432.8 1114.4,435.5 1115.0,438.2C1115.6,441.0 1116.2,443.7 1116.8,446.4C1117.4,449.2 1117.9,451.9 1118.5,454.6C1119.0,457.4 1119.6,460.1 1120.1,462.8C1120.6,465.6 1121.2,468.3 1121.7,471.1C1122.2,473.8 1122.7,476.6 1123.2,479.3C1123.7,482.0 1124.2,484.8 1124.7,487.5C1125.1,490.3 1125.6,493.1 1126.1,495.8C1126.5,498.6 1127.0,501.3 1127.4,504.1C1127.9,506.8 1128.3,509.6 1128.8,512.4C1129.2,515.1 1129.6,517.9 1130.1,520.6C1130.5,523.4 1130.9,526.2 1131.3,528.9C1131.7,531.7 1132.1,534.5 1132.5,537.2C1132.9,540.0 1133.3,542.8 1133.7,545.5C1134.1,548.3 1134.5,551.1 1134.9,553.8C1135.3,556.6 1135.7,559.4 1136.0,562.2C1136.4,564.9 1136.8,567.7 1137.2,570.5C1137.5,573.3 1137.9,576.0 1138.3,578.8C1138.6,581.6 1139.0,584.4 1139.4,587.1C1139.7,589.9 1140.1,592.7 1140.4,595.5C1140.8,598.2 1141.2,601.0 1141.5,603.8C1141.9,606.6 1142.2,609.3 1142.6,612.1C1142.9,614.9 1143.3,617.7 1143.6,620.4C1144.0,623.2 1144.3,626.0 1144.7,628.8C1145.0,631.5 1145.4,634.3 1145.8,637.1C1146.1,639.9 1146.5,642.6 1146.8,645.4C1147.2,648.2 1147.5,651.0 1147.9,653.7C1148.2,656.5 1148.6,659.3 1148.9,662.0C1149.3,664.8 1149.6,667.6 1150.0,670.4C1150.3,673.1 1150.7,675.9 1151.0,678.7C1151.3,681.5 1151.7,684.2 1152.0,687.0C1152.4,689.8 1152.7,692.5 1153.1,695.3C1153.4,698.1 1153.7,700.9 1154.1,703.6C1154.4,706.4 1154.7,709.2 1155.1,711.9C1155.4,714.7 1155.8,717.5 1156.1,720.3C1156.4,723.0 1156.7,725.8 1157.1,728.6C1157.4,731.3 1157.7,734.1 1158.0,736.9C1158.4,739.6 1158.7,742.4 1159.0,745.2C1159.3,748.0 1159.6,750.7 1160.0,753.5C1160.3,756.3 1160.6,759.0 1160.9,761.8C1161.2,764.6 1161.5,767.3 1161.8,770.1C1162.1,772.9 1162.4,775.6 1162.7,778.4C1163.0,781.2 1163.3,783.9 1163.6,786.7C1163.9,789.5 1164.2,792.3 1164.5,795.0C1164.8,797.8 1165.1,800.6 1165.4,803.3C1165.7,806.1 1166.0,808.9 1166.3,811.6C1166.5,814.4 1166.8,817.2 1167.1,819.9C1167.4,822.7 1167.7,825.5 1168.0,828.3C1168.3,831.0 1168.6,833.8 1168.9,836.6C1169.2,839.3 1169.5,842.1 1169.8,844.9C1170.1,847.6 1170.4,850.4 1170.7,853.2C1171.0,856.0 1171.3,858.7 1171.7,861.5C1172.0,864.3 1172.3,867.1 1172.6,869.8C1172.9,872.6 1173.3,875.4 1173.6,878.1C1173.9,880.9 1174.3,883.7 1174.6,886.5C1175.0,889.3 1175.3,892.0 1175.7,894.8C1176.0,897.6 1176.4,900.4 1176.8,903.1C1177.1,905.9 1177.5,908.7 1177.9,911.5C1178.3,914.3 1178.7,917.0 1179.1,919.8C1179.5,922.6 1179.9,925.4 1180.3,928.2C1180.7,931.0 1181.2,933.8 1181.6,936.5C1182.0,939.3 1182.5,942.1 1182.9,944.9C1183.4,947.7 1183.9,950.5 1184.4,953.2C1184.9,956.0 1185.4,958.8 1185.9,961.6C1186.4,964.3 1186.9,967.1 1187.5,969.9C1188.0,972.6 1188.6,975.4 1189.2,978.1C1189.8,980.9 1190.4,983.6 1191.0,986.4C1191.6,989.1 1192.3,991.8 1192.9,994.6C1193.6,997.3 1194.3,1000.0 1195.0,1002.7C1195.7,1005.4 1196.5,1008.1 1197.2,1010.8C1198.0,1013.5 1198.8,1016.1 1199.6,1018.8C1200.4,1021.4 1201.3,1024.1 1202.1,1026.7C1203.0,1029.4 1203.9,1032.0 1204.9,1034.6C1205.8,1037.2 1206.8,1039.8 1207.8,1042.3C1208.7,1044.9 1209.8,1047.5 1210.8,1050.0C1211.9,1052.6 1213.0,1055.1 1214.1,1057.6C1215.3,1060.1 1216.4,1062.6 1217.6,1065.0C1218.9,1067.5 1220.1,1069.9 1221.4,1072.4C1222.7,1074.8 1224.0,1077.2 1225.3,1079.6C1226.7,1082.0 1228.1,1084.3 1229.6,1086.7C1231.0,1089.0 1232.5,1091.3 1234.0,1093.6C1235.5,1095.9 1237.1,1098.2 1238.7,1100.4C1240.3,1102.7 1241.9,1104.9 1243.6,1107.1C1245.2,1109.3 1246.9,1111.5 1248.7,1113.7C1250.4,1115.9 1252.2,1118.0 1254.0,1120.1C1255.8,1122.3 1257.6,1124.4 1259.4,1126.5C1261.3,1128.5 1263.2,1130.6 1265.1,1132.7C1267.0,1134.7 1268.9,1136.7 1270.9,1138.7C1272.8,1140.8 1274.8,1142.7 1276.8,1144.7C1278.8,1146.7 1280.9,1148.7 1282.9,1150.6C1285.0,1152.5 1287.1,1154.4 1289.2,1156.3C1291.2,1158.2 1293.4,1160.1 1295.5,1162.0C1297.6,1163.9 1299.8,1165.7 1301.9,1167.5C1304.1,1169.4 1306.3,1171.2 1308.5,1173.0C1310.7,1174.8 1312.9,1176.6 1315.1,1178.3C1317.3,1180.1 1319.5,1181.9 1321.8,1183.6C1324.0,1185.3 1326.3,1187.1 1328.5,1188.8C1330.8,1190.5 1333.0,1192.2 1335.3,1193.8C1337.6,1195.5 1339.9,1197.2 1342.2,1198.8C1344.4,1200.4 1346.7,1202.1 1349.0,1203.7C1351.3,1205.3 1353.6,1206.9 1356.0,1208.4C1358.3,1210.0 1360.6,1211.6 1363.0,1213.1C1365.3,1214.6 1367.6,1216.1 1370.0,1217.6C1372.4,1219.0 1374.7,1220.5 1377.1,1221.9C1379.5,1223.3 1381.9,1224.7 1384.3,1226.0C1386.7,1227.4 1389.1,1228.7 1391.6,1230.0C1394.0,1231.3 1396.5,1232.6 1398.9,1233.8C1401.4,1235.0 1403.9,1236.2 1406.4,1237.3C1408.9,1238.5 1411.4,1239.6 1414.0,1240.6C1416.5,1241.7 1419.1,1242.7 1421.6,1243.7C1424.2,1244.7 1426.8,1245.7 1429.4,1246.6C1432.0,1247.5 1434.6,1248.4 1437.2,1249.3C1439.8,1250.1 1442.5,1250.9 1445.1,1251.7C1447.8,1252.5 1450.4,1253.3 1453.1,1254.1C1455.8,1254.8 1458.5,1255.5 1461.1,1256.2C1463.8,1256.9 1466.5,1257.6 1469.2,1258.2C1471.9,1258.8 1474.6,1259.5 1477.4,1260.1C1480.1,1260.7 1482.8,1261.2 1485.5,1261.8C1488.3,1262.4 1491.0,1262.9 1493.7,1263.4C1496.5,1264.0 1499.2,1264.5 1501.9,1265.0C1504.7,1265.5 1507.4,1265.9 1510.2,1266.4C1512.9,1266.9 1515.7,1267.3 1518.4,1267.8C1521.2,1268.2 1524.0,1268.6 1526.7,1269.0C1529.5,1269.4 1532.2,1269.8 1535.0,1270.2C1537.8,1270.6 1540.5,1270.9 1543.3,1271.3C1546.1,1271.6 1548.9,1272.0 1551.6,1272.3C1554.4,1272.6 1557.2,1273.0 1560.0,1273.3C1562.8,1273.6 1565.6,1273.9 1568.3,1274.2C1571.1,1274.5 1573.9,1274.7 1576.7,1275.0C1579.5,1275.3 1582.3,1275.6 1585.1,1275.8C1587.9,1276.1 1590.7,1276.3 1593.5,1276.6C1596.2,1276.8 1599.0,1277.0 1601.8,1277.3C1604.6,1277.5 1607.4,1277.7 1610.2,1277.9C1613.0,1278.2 1615.8,1278.4 1618.6,1278.6C1621.4,1278.8 1624.2,1279.0 1627.0,1279.2C1629.8,1279.4 1632.6,1279.6 1635.4,1279.8C1638.2,1280.0 1641.0,1280.2 1643.8,1280.4C1646.6,1280.6 1649.4,1280.7 1652.2,1280.9C1655.0,1281.1 1657.8,1281.3 1660.6,1281.5C1663.3,1281.7 1666.1,1281.8 1668.9,1282.0C1671.7,1282.2 1674.5,1282.4 1677.3,1282.5C1680.1,1282.7 1682.9,1282.9 1685.7,1283.1C1688.5,1283.2 1691.3,1283.4 1694.1,1283.6C1696.9,1283.7 1699.7,1283.9 1702.4,1284.0C1705.2,1284.2 1708.0,1284.4 1710.8,1284.5C1713.6,1284.7 1716.4,1284.8 1719.2,1285.0C1722.0,1285.1 1724.8,1285.3 1727.6,1285.4C1730.3,1285.6 1733.1,1285.7 1735.9,1285.9C1738.7,1286.0 1741.5,1286.1 1744.3,1286.3C1747.1,1286.4 1749.9,1286.6 1752.7,1286.7C1755.4,1286.8 1758.2,1287.0 1761.0,1287.1C1763.8,1287.2 1766.6,1287.4 1769.4,1287.5C1772.2,1287.6 1775.0,1287.8 1777.8,1287.9C1780.5,1288.0 1783.3,1288.1 1786.1,1288.3C1788.9,1288.4 1791.7,1288.5 1794.5,1288.6C1797.3,1288.7 1800.1,1288.9 1802.8,1289.0C1805.6,1289.1 1808.4,1289.2 1811.2,1289.3C1814.0,1289.4 1816.8,1289.5 1819.6,1289.6C1822.4,1289.7 1825.1,1289.9 1827.9,1290.0C1830.7,1290.1 1833.5,1290.2 1836.3,1290.3C1839.1,1290.4 1841.9,1290.5 1844.7,1290.6C1847.4,1290.7 1850.2,1290.8 1853.0,1290.9C1855.8,1291.0 1858.6,1291.1 1861.4,1291.1C1864.2,1291.2 1867.0,1291.3 1869.7,1291.4C1872.5,1291.5 1875.3,1291.6 1878.1,1291.7C1880.9,1291.8 1883.7,1291.9 1886.5,1291.9C1889.3,1292.0 1892.1,1292.1 1894.8,1292.2C1897.6,1292.3 1900.4,1292.3 1903.2,1292.4C1906.0,1292.5 1908.8,1292.6 1911.6,1292.7C1914.4,1292.7 1917.2,1292.8 1920.0,1292.9C1922.8,1293.0 1925.5,1293.0 1928.3,1293.1C1931.1,1293.2 1933.9,1293.2 1936.7,1293.3C1939.5,1293.4 1942.3,1293.4 1945.1,1293.5C1947.9,1293.6 1950.7,1293.6 1953.5,1293.7C1956.3,1293.8 1959.1,1293.8 1961.8,1293.9C1964.6,1293.9 1967.4,1294.0 1970.2,1294.1C1973.0,1294.1 1975.8,1294.2 1978.6,1294.2C1981.4,1294.3 1984.2,1294.3 1987.0,1294.4C1989.8,1294.5 1992.6,1294.5 1995.4,1294.6C1998.2,1294.6 2001.0,1294.7 2003.8,1294.7C2006.6,1294.8 2009.4,1294.8 2012.2,1294.9C2015.0,1294.9 2017.8,1295.0 2020.5,1295.0C2023.3,1295.1 2026.1,1295.1 2028.9,1295.2C2031.7,1295.2 2034.5,1295.3 2037.3,1295.4C2040.1,1295.4 2042.9,1295.5 2045.7,1295.5C2048.5,1295.6 2051.3,1295.6 2054.1,1295.7C2056.9,1295.7 2059.7,1295.8 2062.5,1295.8C2065.3,1295.9 2068.1,1295.9 2070.9,1296.0C2073.7,1296.0 2076.5,1296.1 2079.3,1296.1C2082.1,1296.2 2084.9,1296.2 2087.7,1296.3C2090.5,1296.4 2093.3,1296.4 2096.1,1296.5C2098.8,1296.5 2101.6,1296.6 2104.4,1296.6C2107.2,1296.7 2110.0,1296.8 2112.8,1296.8C2115.6,1296.9 2118.4,1296.9 2121.2,1297.0C2124.0,1297.1 2126.8,1297.1 2129.6,1297.2C2132.4,1297.2 2135.2,1297.3 2138.0,1297.4C2140.8,1297.4 2143.6,1297.5 2146.4,1297.6C2149.1,1297.7 2151.9,1297.7 2154.7,1297.8C2157.5,1297.9 2160.3,1297.9 2163.1,1298.0C2165.9,1298.1 2168.7,1298.2 2171.5,1298.2C2174.3,1298.3 2177.1,1298.4 2179.9,1298.5C2182.6,1298.6 2185.4,1298.7 2188.2,1298.7C2191.0,1298.8 2193.8,1298.9 2196.6,1299.0C2199.4,1299.1 2202.2,1299.2 2205.0,1299.3C2207.7,1299.4 2210.5,1299.5 2213.3,1299.6C2216.1,1299.7 2218.9,1299.8 2221.7,1299.9C2224.5,1300.0 2227.2,1300.1 2230.0,1300.2C2232.8,1300.3 2235.6,1300.4 2238.4,1300.5C2241.2,1300.6 2245.3,1300.8 2246.7,1300.9" fill="none" stroke="#000" stroke-width="12.0" stroke-linecap="round" stroke-linejoin="round"/>
<rect x="1342.4" y="57.0" width="885.2" height="800.0" fill="#fff" stroke="#000" stroke-width="3.6"/>
<line x1="1335.0" y1="785.7" x2="1342.4" y2="785.7" stroke="#000" stroke-width="3.6" stroke-linecap="round"/>
<line x1="1328.5" y1="701.4" x2="1342.4" y2="701.4" stroke="#000" stroke-width="3.6" stroke-linecap="round"/>
<line x1="1335.0" y1="617.1" x2="1342.4" y2="617.1" stroke="#000" stroke-width="3.6" stroke-linecap="round"/>
<line x1="1328.5" y1="532.8" x2="1342.4" y2="532.8" stroke="#000" stroke-width="3.6" stroke-linecap="round"/>
<line x1="1335.0" y1="448.5" x2="1342.4" y2="448.5" stroke="#000" stroke-width="3.6" stroke-linecap="round"/>
<line x1="1328.5" y1="364.2" x2="1342.4" y2="364.2" stroke="#000" stroke-width="3.6" stroke-linecap="round"/>
<line x1="1335.0" y1="279.9" x2="1342.4" y2="279.9" stroke="#000" stroke-width="3.6" stroke-linecap="round"/>
<line x1="1328.5" y1="195.6" x2="1342.4" y2="195.6" stroke="#000" stroke-width="3.6" stroke-linecap="round"/>
<line x1="1335.0" y1="111.3" x2="1342.4" y2="111.3" stroke="#000" stroke-width="3.6" stroke-linecap="round"/>
<line x1="1410.0" y1="857.0" x2="1410.0" y2="864.5" stroke="#000" stroke-width="3.6" stroke-linecap="round"/>
<line x1="1502.7" y1="857.0" x2="1502.7" y2="871.0" stroke="#000" stroke-width="3.6" stroke-linecap="round"/>
<line x1="1595.4" y1="857.0" x2="1595.4" y2="864.5" stroke="#000" stroke-width="3.6" stroke-linecap="round"/>
<line x1="1688.0" y1="857.0" x2="1688.0" y2="871.0" stroke="#000" stroke-width="3.6" stroke-linecap="round"/>
<line x1="1780.7" y1="857.0" x2="1780.7" y2="864.5" stroke="#000" stroke-width="3.6" stroke-linecap="round"/>
<line x1="1873.3" y1="857.0" x2="1873.3" y2="871.0" stroke="#000" stroke-width="3.6" stroke-linecap="round"/>
<line x1="1966.0" y1="857.0" x2="1966.0" y2="864.5" stroke="#000" stroke-width="3.6" stroke-linecap="round"/>
<line x1="2058.6" y1="857.0" x2="2058.6" y2="871.0" stroke="#000" stroke-width="3.6" stroke-linecap="round"/>
<line x1="2151.2" y1="857.0" x2="2151.2" y2="864.5" stroke="#000" stroke-width="3.6" stroke-linecap="round"/>
<text transform="translate(1319.2,711.9) scale(0.84,1)" text-anchor="end" font-family="Liberation Sans, Arial, sans-serif" font-size="31">94</text>
<text transform="translate(1319.2,543.3) scale(0.84,1)" text-anchor="end" font-family="Liberation Sans, Arial, sans-serif" font-size="31">96</text>
<text transform="translate(1319.2,374.7) scale(0.84,1)" text-anchor="end" font-family="Liberation Sans, Arial, sans-serif" font-size="31">98</text>
<text transform="translate(1319.2,206.1) scale(0.84,1)" text-anchor="end" font-family="Liberation Sans, Arial, sans-serif" font-size="31">100</text>
<text transform="translate(1502.7,906) scale(0.86,1)" text-anchor="middle" font-family="Liberation Sans, Arial, sans-serif" font-size="31">240</text>
<text transform="translate(1688.0,906) scale(0.86,1)" text-anchor="middle" font-family="Liberation Sans, Arial, sans-serif" font-size="31">250</text>
<text transform="translate(1873.3,906) scale(0.86,1)" text-anchor="middle" font-family="Liberation Sans, Arial, sans-serif" font-size="31">260</text>
<text transform="translate(2058.6,906) scale(0.86,1)" text-anchor="middle" font-family="Liberation Sans, Arial, sans-serif" font-size="31">270</text>
<clipPath id="ic"><rect x="1343.8" y="58.4" width="882.4" height="797.2"/></clipPath>
<g clip-path="url(#ic)"><path d="M1342.8,290.1C1345.1,290.4 1352.0,291.0 1356.5,291.5C1361.1,292.0 1365.7,292.5 1370.2,293.0C1374.8,293.5 1379.4,294.1 1383.9,294.7C1388.5,295.2 1393.0,295.8 1397.6,296.5C1402.1,297.1 1406.7,297.7 1411.2,298.4C1415.8,299.1 1420.3,299.8 1424.9,300.5C1429.4,301.2 1433.9,302.0 1438.5,302.8C1443.0,303.5 1447.5,304.3 1452.0,305.1C1456.6,306.0 1461.1,306.8 1465.6,307.7C1470.1,308.5 1474.6,309.4 1479.1,310.4C1483.6,311.3 1488.1,312.2 1492.6,313.2C1497.1,314.2 1501.5,315.2 1506.0,316.2C1510.5,317.2 1514.9,318.2 1519.4,319.3C1523.9,320.4 1528.3,321.5 1532.8,322.6C1537.2,323.7 1541.7,324.9 1546.1,326.0C1550.5,327.2 1555.0,328.4 1559.4,329.6C1563.8,330.8 1568.2,332.1 1572.6,333.3C1577.0,334.6 1581.4,335.9 1585.8,337.2C1590.2,338.5 1594.6,339.9 1598.9,341.3C1603.3,342.6 1607.7,344.0 1612.0,345.5C1616.4,346.9 1620.7,348.3 1625.0,349.8C1629.4,351.3 1633.7,352.8 1638.0,354.3C1642.3,355.8 1646.6,357.4 1650.9,358.9C1655.2,360.5 1659.5,362.1 1663.8,363.7C1668.0,365.4 1672.3,367.0 1676.5,368.7C1680.8,370.4 1685.0,372.1 1689.3,373.8C1693.5,375.6 1697.7,377.3 1701.9,379.1C1706.1,380.9 1710.3,382.7 1714.5,384.5C1718.7,386.3 1722.8,388.2 1727.0,390.1C1731.2,392.0 1735.3,393.9 1739.4,395.8C1743.6,397.8 1747.7,399.7 1751.8,401.7C1755.9,403.7 1760.0,405.7 1764.1,407.8C1768.2,409.8 1772.2,411.9 1776.3,414.0C1780.3,416.1 1784.4,418.2 1788.4,420.4C1792.4,422.5 1796.4,424.7 1800.4,426.9C1804.4,429.1 1808.4,431.3 1812.4,433.6C1816.4,435.8 1820.3,438.1 1824.3,440.4C1828.2,442.7 1832.1,445.1 1836.0,447.4C1839.9,449.8 1843.8,452.2 1847.7,454.6C1851.6,457.0 1855.4,459.4 1859.3,461.9C1863.1,464.4 1866.9,466.9 1870.8,469.4C1874.6,471.9 1878.4,474.5 1882.2,477.0C1885.9,479.6 1889.7,482.2 1893.4,484.8C1897.2,487.4 1900.9,490.1 1904.6,492.7C1908.4,495.4 1912.1,498.1 1915.7,500.8C1919.4,503.5 1923.1,506.3 1926.7,509.0C1930.4,511.8 1934.0,514.6 1937.6,517.4C1941.2,520.2 1944.8,523.1 1948.4,525.9C1952.0,528.8 1955.6,531.6 1959.1,534.5C1962.7,537.4 1966.2,540.4 1969.7,543.3C1973.2,546.3 1976.7,549.2 1980.2,552.2C1983.7,555.2 1987.1,558.2 1990.6,561.2C1994.0,564.3 1997.4,567.3 2000.8,570.4C2004.2,573.5 2007.6,576.6 2011.0,579.7C2014.4,582.8 2017.7,585.9 2021.1,589.1C2024.4,592.2 2027.7,595.4 2031.0,598.6C2034.3,601.8 2037.6,605.0 2040.9,608.2C2044.1,611.5 2047.4,614.7 2050.6,618.0C2053.8,621.2 2057.0,624.5 2060.2,627.8C2063.4,631.1 2066.6,634.4 2069.7,637.8C2072.9,641.1 2076.0,644.5 2079.1,647.8C2082.2,651.2 2085.3,654.6 2088.4,658.0C2091.5,661.4 2094.5,664.8 2097.5,668.3C2100.6,671.7 2103.6,675.2 2106.6,678.6C2109.6,682.1 2112.6,685.6 2115.5,689.1C2118.5,692.6 2121.4,696.1 2124.3,699.6C2127.3,703.2 2130.2,706.7 2133.0,710.3C2135.9,713.8 2138.8,717.4 2141.6,721.0C2144.5,724.6 2147.3,728.2 2150.1,731.8C2152.9,735.4 2155.7,739.1 2158.4,742.7C2161.2,746.3 2163.9,750.0 2166.6,753.7C2169.3,757.3 2172.0,761.0 2174.7,764.7C2177.4,768.4 2180.1,772.1 2182.7,775.8C2185.3,779.6 2187.9,783.3 2190.5,787.0C2193.1,790.8 2195.7,794.5 2198.2,798.3C2200.8,802.0 2203.3,805.8 2205.8,809.6C2208.4,813.4 2210.8,817.2 2213.3,821.0C2215.8,824.8 2218.2,828.6 2220.6,832.4C2223.1,836.3 2226.7,842.0 2227.9,843.9" fill="none" stroke="#000" stroke-width="2.6"/><path d="M1342.6,302.8C1344.9,303.0 1351.8,303.6 1356.4,304.1C1360.9,304.5 1365.5,305.0 1370.0,305.5C1374.6,306.0 1379.1,306.6 1383.7,307.2C1388.2,307.7 1392.7,308.3 1397.3,309.0C1401.8,309.6 1406.3,310.3 1410.8,311.0C1415.3,311.6 1419.8,312.4 1424.3,313.1C1428.8,313.9 1433.3,314.6 1437.8,315.4C1442.3,316.2 1446.8,317.1 1451.3,317.9C1455.7,318.8 1460.2,319.7 1464.7,320.6C1469.1,321.5 1473.6,322.5 1478.0,323.5C1482.5,324.4 1486.9,325.4 1491.3,326.5C1495.7,327.5 1500.2,328.5 1504.6,329.6C1509.0,330.7 1513.4,331.8 1517.8,333.0C1522.2,334.1 1526.6,335.3 1530.9,336.5C1535.3,337.7 1539.7,338.9 1544.0,340.1C1548.4,341.4 1552.8,342.7 1557.1,344.0C1561.4,345.3 1565.8,346.6 1570.1,347.9C1574.4,349.3 1578.7,350.7 1583.1,352.1C1587.4,353.5 1591.7,354.9 1595.9,356.4C1600.2,357.9 1604.5,359.3 1608.8,360.8C1613.1,362.4 1617.3,363.9 1621.6,365.5C1625.8,367.0 1630.1,368.6 1634.3,370.2C1638.5,371.8 1642.7,373.5 1647.0,375.1C1651.2,376.8 1655.4,378.5 1659.6,380.2C1663.8,381.9 1667.9,383.7 1672.1,385.4C1676.3,387.2 1680.4,389.0 1684.6,390.8C1688.7,392.6 1692.9,394.4 1697.0,396.3C1701.1,398.2 1705.2,400.0 1709.3,401.9C1713.4,403.9 1717.5,405.8 1721.6,407.7C1725.7,409.7 1729.8,411.7 1733.8,413.7C1737.9,415.7 1741.9,417.7 1746.0,419.8C1750.0,421.8 1754.0,423.9 1758.1,426.0C1762.1,428.1 1766.1,430.2 1770.1,432.4C1774.1,434.5 1778.0,436.7 1782.0,438.9C1786.0,441.0 1789.9,443.3 1793.9,445.5C1797.8,447.7 1801.7,450.0 1805.6,452.3C1809.6,454.5 1813.5,456.8 1817.4,459.2C1821.2,461.5 1825.1,463.8 1829.0,466.2C1832.9,468.6 1836.7,471.0 1840.5,473.4C1844.4,475.8 1848.2,478.2 1852.0,480.7C1855.8,483.1 1859.6,485.6 1863.4,488.1C1867.2,490.6 1871.0,493.1 1874.7,495.6C1878.5,498.2 1882.2,500.7 1886.0,503.3C1889.7,505.9 1893.4,508.5 1897.1,511.1C1900.8,513.7 1904.5,516.4 1908.2,519.0C1911.8,521.7 1915.5,524.4 1919.1,527.1C1922.8,529.8 1926.4,532.5 1930.0,535.2C1933.7,538.0 1937.3,540.7 1940.8,543.5C1944.4,546.3 1948.0,549.1 1951.6,551.9C1955.1,554.8 1958.6,557.6 1962.2,560.5C1965.7,563.3 1969.2,566.2 1972.7,569.1C1976.2,572.0 1979.7,574.9 1983.1,577.8C1986.6,580.8 1990.1,583.7 1993.5,586.7C1996.9,589.7 2000.3,592.7 2003.7,595.7C2007.1,598.7 2010.5,601.7 2013.9,604.7C2017.3,607.8 2020.6,610.8 2023.9,613.9C2027.3,617.0 2030.6,620.1 2033.9,623.2C2037.2,626.3 2040.5,629.5 2043.8,632.6C2047.0,635.8 2050.3,638.9 2053.5,642.1C2056.7,645.3 2060.0,648.5 2063.2,651.7C2066.4,655.0 2069.5,658.2 2072.7,661.5C2075.9,664.7 2079.0,668.0 2082.2,671.3C2085.3,674.6 2088.4,677.9 2091.5,681.2C2094.6,684.5 2097.7,687.8 2100.7,691.2C2103.8,694.5 2106.8,697.9 2109.9,701.3C2112.9,704.7 2115.9,708.1 2118.9,711.5C2121.9,714.9 2124.8,718.3 2127.8,721.8C2130.7,725.2 2133.7,728.7 2136.6,732.2C2139.5,735.7 2142.4,739.1 2145.3,742.7C2148.1,746.2 2151.0,749.7 2153.8,753.2C2156.7,756.8 2159.5,760.3 2162.3,763.9C2165.1,767.5 2167.9,771.0 2170.6,774.6C2173.4,778.2 2176.1,781.8 2178.9,785.5C2181.6,789.1 2184.3,792.7 2187.0,796.4C2189.6,800.0 2192.3,803.7 2194.9,807.4C2197.6,811.1 2200.2,814.8 2202.8,818.5C2205.4,822.2 2208.0,825.9 2210.6,829.6C2213.1,833.4 2215.7,837.1 2218.2,840.9C2220.7,844.6 2224.4,850.3 2225.7,852.2" fill="none" stroke="#000" stroke-width="2.6"/><path d="M1343.3,320.7C1345.6,321.0 1352.2,321.8 1356.7,322.3C1361.1,322.9 1365.6,323.4 1370.0,324.0C1374.5,324.6 1378.9,325.2 1383.3,325.9C1387.8,326.5 1392.2,327.2 1396.7,327.8C1401.1,328.5 1405.5,329.2 1410.0,329.9C1414.4,330.6 1418.9,331.4 1423.3,332.1C1427.7,332.9 1432.1,333.7 1436.6,334.5C1441.0,335.3 1445.4,336.1 1449.8,336.9C1454.3,337.8 1458.7,338.6 1463.1,339.5C1467.5,340.4 1471.9,341.3 1476.3,342.3C1480.7,343.2 1485.1,344.1 1489.5,345.1C1493.9,346.1 1498.3,347.1 1502.7,348.1C1507.1,349.1 1511.5,350.2 1515.8,351.2C1520.2,352.3 1524.6,353.4 1529.0,354.5C1533.3,355.6 1537.7,356.7 1542.1,357.9C1546.4,359.0 1550.8,360.2 1555.1,361.4C1559.5,362.6 1563.8,363.8 1568.1,365.0C1572.5,366.2 1576.8,367.5 1581.1,368.8C1585.4,370.1 1589.7,371.4 1594.0,372.7C1598.4,374.0 1602.7,375.4 1606.9,376.8C1611.2,378.1 1615.5,379.5 1619.8,380.9C1624.1,382.4 1628.3,383.8 1632.6,385.3C1636.9,386.7 1641.1,388.2 1645.4,389.7C1649.6,391.2 1653.8,392.8 1658.1,394.3C1662.3,395.9 1666.5,397.4 1670.7,399.0C1674.9,400.6 1679.1,402.3 1683.3,403.9C1687.5,405.6 1691.7,407.2 1695.8,408.9C1700.0,410.6 1704.2,412.3 1708.3,414.1C1712.5,415.8 1716.6,417.6 1720.7,419.4C1724.9,421.2 1729.0,423.0 1733.1,424.8C1737.2,426.6 1741.3,428.5 1745.4,430.4C1749.5,432.2 1753.5,434.2 1757.6,436.1C1761.7,438.0 1765.7,440.0 1769.7,441.9C1773.8,443.9 1777.8,445.9 1781.8,447.9C1785.8,450.0 1789.8,452.0 1793.8,454.1C1797.8,456.1 1801.8,458.2 1805.7,460.4C1809.7,462.5 1813.6,464.6 1817.6,466.8C1821.5,469.0 1825.4,471.2 1829.3,473.4C1833.2,475.6 1837.1,477.8 1841.0,480.1C1844.9,482.4 1848.8,484.6 1852.6,487.0C1856.5,489.3 1860.3,491.6 1864.1,494.0C1867.9,496.3 1871.7,498.7 1875.5,501.1C1879.3,503.5 1883.1,506.0 1886.9,508.4C1890.6,510.9 1894.4,513.4 1898.1,515.9C1901.8,518.4 1905.5,520.9 1909.2,523.4C1912.9,526.0 1916.6,528.6 1920.3,531.2C1923.9,533.8 1927.6,536.4 1931.2,539.0C1934.8,541.7 1938.5,544.3 1942.1,547.0C1945.7,549.7 1949.2,552.4 1952.8,555.1C1956.4,557.9 1959.9,560.6 1963.4,563.4C1967.0,566.2 1970.5,569.0 1974.0,571.8C1977.5,574.6 1981.0,577.4 1984.4,580.3C1987.9,583.2 1991.3,586.1 1994.7,589.0C1998.2,591.9 2001.6,594.8 2005.0,597.8C2008.3,600.7 2011.7,603.7 2015.1,606.7C2018.4,609.7 2021.7,612.7 2025.0,615.7C2028.4,618.7 2031.6,621.8 2034.9,624.9C2038.2,627.9 2041.4,631.0 2044.7,634.2C2047.9,637.3 2051.1,640.4 2054.3,643.6C2057.5,646.7 2060.7,649.9 2063.8,653.1C2067.0,656.3 2070.1,659.5 2073.2,662.8C2076.4,666.0 2079.4,669.3 2082.5,672.5C2085.6,675.8 2088.6,679.1 2091.7,682.4C2094.7,685.8 2097.7,689.1 2100.7,692.5C2103.7,695.8 2106.6,699.2 2109.6,702.6C2112.5,706.0 2115.5,709.4 2118.4,712.8C2121.3,716.3 2124.1,719.7 2127.0,723.2C2129.8,726.7 2132.7,730.2 2135.5,733.7C2138.3,737.2 2141.1,740.7 2143.9,744.3C2146.6,747.8 2149.4,751.4 2152.1,755.0C2154.8,758.5 2157.5,762.1 2160.2,765.8C2162.9,769.4 2165.5,773.0 2168.1,776.7C2170.8,780.3 2173.4,784.0 2175.9,787.7C2178.5,791.4 2181.1,795.1 2183.6,798.8C2186.1,802.5 2188.6,806.3 2191.1,810.0C2193.6,813.8 2196.1,817.6 2198.5,821.4C2200.9,825.2 2203.3,829.0 2205.7,832.8C2208.1,836.7 2210.5,840.5 2212.8,844.4C2215.1,848.2 2218.5,854.1 2219.7,856.0" fill="none" stroke="#000" stroke-width="2.6"/><path d="M1343.5,350.5C1345.3,350.6 1350.9,350.8 1354.6,350.9C1358.4,351.0 1362.1,351.1 1365.8,351.2C1369.6,351.3 1373.3,351.4 1377.0,351.5C1380.7,351.6 1384.5,351.7 1388.2,351.8C1391.9,351.9 1395.7,352.0 1399.4,352.1C1403.1,352.2 1406.9,352.3 1410.6,352.4C1414.3,352.5 1418.0,352.6 1421.8,352.7C1425.5,352.8 1429.2,352.9 1433.0,353.0C1436.7,353.1 1440.4,353.2 1444.2,353.3C1447.9,353.4 1451.6,353.5 1455.4,353.6C1459.1,353.7 1462.8,353.8 1466.6,353.9C1470.3,354.0 1474.0,354.1 1477.7,354.2C1481.5,354.3 1485.2,354.4 1488.9,354.5C1492.7,354.6 1496.4,354.7 1500.1,354.9C1503.9,355.0 1507.6,355.1 1511.3,355.2C1515.1,355.3 1518.8,355.4 1522.5,355.5C1526.3,355.6 1530.0,355.7 1533.7,355.8C1537.5,355.9 1541.2,356.1 1544.9,356.2C1548.7,356.3 1552.4,356.4 1556.1,356.5C1559.9,356.6 1563.6,356.8 1567.3,356.9C1571.1,357.0 1574.8,357.1 1578.5,357.2C1582.3,357.3 1586.0,357.5 1589.7,357.6C1593.5,357.7 1597.2,357.8 1600.9,358.0C1604.7,358.1 1608.4,358.2 1612.1,358.3C1615.9,358.5 1619.6,358.6 1623.3,358.7C1627.1,358.9 1630.8,359.0 1634.5,359.1C1638.3,359.3 1642.0,359.4 1645.7,359.5C1649.5,359.7 1653.2,359.8 1656.9,360.0C1660.7,360.1 1664.4,360.2 1668.1,360.4C1671.9,360.5 1675.6,360.7 1679.3,360.8C1683.1,361.0 1686.8,361.1 1690.5,361.3C1694.3,361.4 1698.0,361.6 1701.7,361.7C1705.5,361.9 1709.2,362.1 1712.9,362.2C1716.7,362.4 1720.4,362.5 1724.1,362.7C1727.9,362.9 1731.6,363.0 1735.3,363.2C1739.1,363.4 1742.8,363.6 1746.5,363.7C1750.3,363.9 1754.0,364.1 1757.7,364.3C1761.4,364.4 1765.2,364.6 1768.9,364.8C1772.6,365.0 1776.4,365.2 1780.1,365.4C1783.8,365.6 1787.6,365.8 1791.3,366.0C1795.0,366.2 1798.7,366.4 1802.5,366.6C1806.2,366.8 1809.9,367.0 1813.7,367.2C1817.4,367.4 1821.1,367.6 1824.9,367.8C1828.6,368.0 1832.3,368.2 1836.0,368.4C1839.8,368.7 1843.5,368.9 1847.2,369.1C1851.0,369.3 1854.7,369.6 1858.4,369.8C1862.1,370.0 1865.9,370.3 1869.6,370.5C1873.3,370.7 1877.0,371.0 1880.8,371.2C1884.5,371.5 1888.2,371.7 1891.9,372.0C1895.7,372.2 1899.4,372.5 1903.1,372.7C1906.8,373.0 1910.6,373.3 1914.3,373.5C1918.0,373.8 1921.7,374.1 1925.5,374.3C1929.2,374.6 1932.9,374.9 1936.6,375.2C1940.4,375.4 1944.1,375.7 1947.8,376.0C1951.5,376.3 1955.2,376.6 1959.0,376.9C1962.7,377.2 1966.4,377.5 1970.1,377.8C1973.9,378.1 1977.6,378.4 1981.3,378.7C1985.0,379.0 1988.7,379.3 1992.5,379.7C1996.2,380.0 1999.9,380.3 2003.6,380.6C2007.3,381.0 2011.0,381.3 2014.8,381.6C2018.5,382.0 2022.2,382.3 2025.9,382.7C2029.6,383.0 2033.3,383.3 2037.1,383.7C2040.8,384.1 2044.5,384.4 2048.2,384.8C2051.9,385.1 2055.6,385.5 2059.4,385.9C2063.1,386.3 2066.8,386.6 2070.5,387.0C2074.2,387.4 2077.9,387.8 2081.6,388.2C2085.3,388.6 2089.1,389.0 2092.8,389.4C2096.5,389.8 2100.2,390.2 2103.9,390.6C2107.6,391.0 2111.3,391.4 2115.0,391.8C2118.7,392.3 2122.4,392.7 2126.1,393.1C2129.9,393.6 2133.6,394.0 2137.3,394.4C2141.0,394.9 2144.7,395.3 2148.4,395.8C2152.1,396.2 2155.8,396.7 2159.5,397.2C2163.2,397.6 2166.9,398.1 2170.6,398.6C2174.3,399.0 2178.0,399.5 2181.7,400.0C2185.4,400.5 2189.1,401.0 2192.8,401.5C2196.5,402.0 2200.2,402.5 2203.9,403.0C2207.6,403.5 2211.3,404.0 2215.0,404.5C2218.7,405.0 2224.3,405.8 2226.1,406.1" fill="none" stroke="#000" stroke-width="2.6"/><path d="M1343.0,355.6C1345.2,355.8 1351.7,356.6 1356.0,357.1C1360.3,357.6 1364.7,358.2 1369.0,358.7C1373.4,359.3 1377.7,359.9 1382.0,360.5C1386.4,361.1 1390.7,361.7 1395.1,362.3C1399.4,362.9 1403.7,363.6 1408.1,364.2C1412.4,364.9 1416.7,365.6 1421.1,366.3C1425.4,367.0 1429.7,367.7 1434.1,368.4C1438.4,369.2 1442.7,369.9 1447.0,370.7C1451.4,371.5 1455.7,372.3 1460.0,373.1C1464.3,373.9 1468.6,374.7 1473.0,375.5C1477.3,376.4 1481.6,377.2 1485.9,378.1C1490.2,379.0 1494.5,379.9 1498.8,380.8C1503.1,381.8 1507.4,382.7 1511.7,383.7C1516.0,384.6 1520.3,385.6 1524.5,386.6C1528.8,387.6 1533.1,388.6 1537.4,389.6C1541.6,390.7 1545.9,391.7 1550.2,392.8C1554.4,393.9 1558.7,395.0 1562.9,396.1C1567.2,397.2 1571.4,398.4 1575.7,399.5C1579.9,400.7 1584.1,401.9 1588.4,403.1C1592.6,404.3 1596.8,405.5 1601.0,406.7C1605.2,408.0 1609.4,409.2 1613.6,410.5C1617.8,411.8 1622.0,413.1 1626.2,414.4C1630.4,415.7 1634.6,417.1 1638.7,418.5C1642.9,419.8 1647.1,421.2 1651.2,422.6C1655.4,424.0 1659.5,425.5 1663.6,426.9C1667.8,428.4 1671.9,429.9 1676.0,431.4C1680.1,432.9 1684.2,434.4 1688.3,435.9C1692.4,437.5 1696.5,439.1 1700.6,440.6C1704.7,442.2 1708.7,443.9 1712.8,445.5C1716.8,447.1 1720.9,448.8 1724.9,450.5C1729.0,452.1 1733.0,453.9 1737.0,455.6C1741.0,457.3 1745.0,459.1 1749.0,460.8C1753.0,462.6 1757.0,464.4 1760.9,466.2C1764.9,468.1 1768.9,469.9 1772.8,471.8C1776.7,473.7 1780.7,475.5 1784.6,477.5C1788.5,479.4 1792.4,481.3 1796.3,483.3C1800.2,485.3 1804.1,487.3 1807.9,489.3C1811.8,491.3 1815.7,493.3 1819.5,495.4C1823.3,497.5 1827.2,499.6 1831.0,501.7C1834.8,503.8 1838.6,505.9 1842.4,508.1C1846.1,510.3 1849.9,512.5 1853.7,514.7C1857.4,516.9 1861.2,519.1 1864.9,521.4C1868.6,523.7 1872.3,526.0 1876.0,528.3C1879.7,530.6 1883.4,532.9 1887.0,535.3C1890.7,537.7 1894.4,540.0 1898.0,542.5C1901.6,544.9 1905.2,547.3 1908.8,549.8C1912.5,552.2 1916.0,554.7 1919.6,557.2C1923.2,559.7 1926.7,562.2 1930.3,564.8C1933.8,567.3 1937.4,569.9 1940.9,572.5C1944.4,575.1 1947.9,577.7 1951.4,580.3C1954.8,583.0 1958.3,585.6 1961.8,588.3C1965.2,591.0 1968.6,593.7 1972.1,596.4C1975.5,599.1 1978.9,601.9 1982.3,604.6C1985.7,607.4 1989.0,610.2 1992.4,613.0C1995.7,615.8 1999.1,618.6 2002.4,621.5C2005.7,624.3 2009.0,627.2 2012.3,630.1C2015.6,633.0 2018.9,635.9 2022.1,638.8C2025.4,641.8 2028.6,644.7 2031.8,647.7C2035.1,650.6 2038.3,653.6 2041.4,656.6C2044.6,659.6 2047.8,662.7 2051.0,665.7C2054.1,668.8 2057.3,671.8 2060.4,674.9C2063.5,678.0 2066.6,681.1 2069.7,684.2C2072.8,687.3 2075.8,690.5 2078.9,693.6C2081.9,696.8 2085.0,700.0 2088.0,703.2C2091.0,706.3 2094.0,709.6 2097.0,712.8C2100.0,716.0 2102.9,719.3 2105.9,722.5C2108.8,725.8 2111.8,729.1 2114.7,732.4C2117.6,735.7 2120.5,739.0 2123.3,742.3C2126.2,745.6 2129.1,749.0 2131.9,752.3C2134.8,755.7 2137.6,759.1 2140.4,762.5C2143.2,765.9 2146.0,769.3 2148.7,772.7C2151.5,776.1 2154.2,779.6 2157.0,783.0C2159.7,786.5 2162.4,790.0 2165.1,793.4C2167.8,796.9 2170.5,800.4 2173.1,803.9C2175.8,807.5 2178.4,811.0 2181.0,814.5C2183.7,818.1 2186.2,821.6 2188.8,825.2C2191.4,828.8 2194.0,832.4 2196.5,836.0C2199.0,839.6 2201.6,843.2 2204.1,846.8C2206.6,850.5 2210.3,855.9 2211.5,857.8" fill="none" stroke="#000" stroke-width="2.6"/></g>
<line x1="1597.3" y1="247.5" x2="1567.1" y2="331.0" stroke="#000" stroke-width="2.4"/><polygon points="1561.6,346.0 1562.6,327.2 1572.9,331.0" fill="#000"/>
<line x1="1693.2" y1="253.4" x2="1642.1" y2="372.6" stroke="#000" stroke-width="2.4"/><polygon points="1635.8,387.3 1637.8,368.6 1647.9,372.9" fill="#000"/>
<line x1="1784.4" y1="262.6" x2="1711.3" y2="428.6" stroke="#000" stroke-width="2.4"/><polygon points="1704.8,443.2 1707.0,424.5 1717.1,428.9" fill="#000"/>
<line x1="1887.9" y1="269.9" x2="1813.8" y2="412.5" stroke="#000" stroke-width="2.4"/><polygon points="1806.4,426.7 1809.8,408.2 1819.6,413.3" fill="#000"/>
<text transform="translate(1570.3,224.1) scale(0.84,1)" font-family="Liberation Serif, Times New Roman, serif" font-weight="bold" font-size="63.6">A1</text>
<text transform="translate(1667.5,238.4) scale(0.84,1)" font-family="Liberation Serif, Times New Roman, serif" font-weight="bold" font-size="63.6">A2</text>
<text transform="translate(1758.2,247.0) scale(0.84,1)" font-family="Liberation Serif, Times New Roman, serif" font-weight="bold" font-size="63.6">A3</text>
<text transform="translate(1868.1,259.8) scale(0.84,1)" font-family="Liberation Serif, Times New Roman, serif" font-weight="bold" font-size="63.6">A4</text></svg>
</body></html>
